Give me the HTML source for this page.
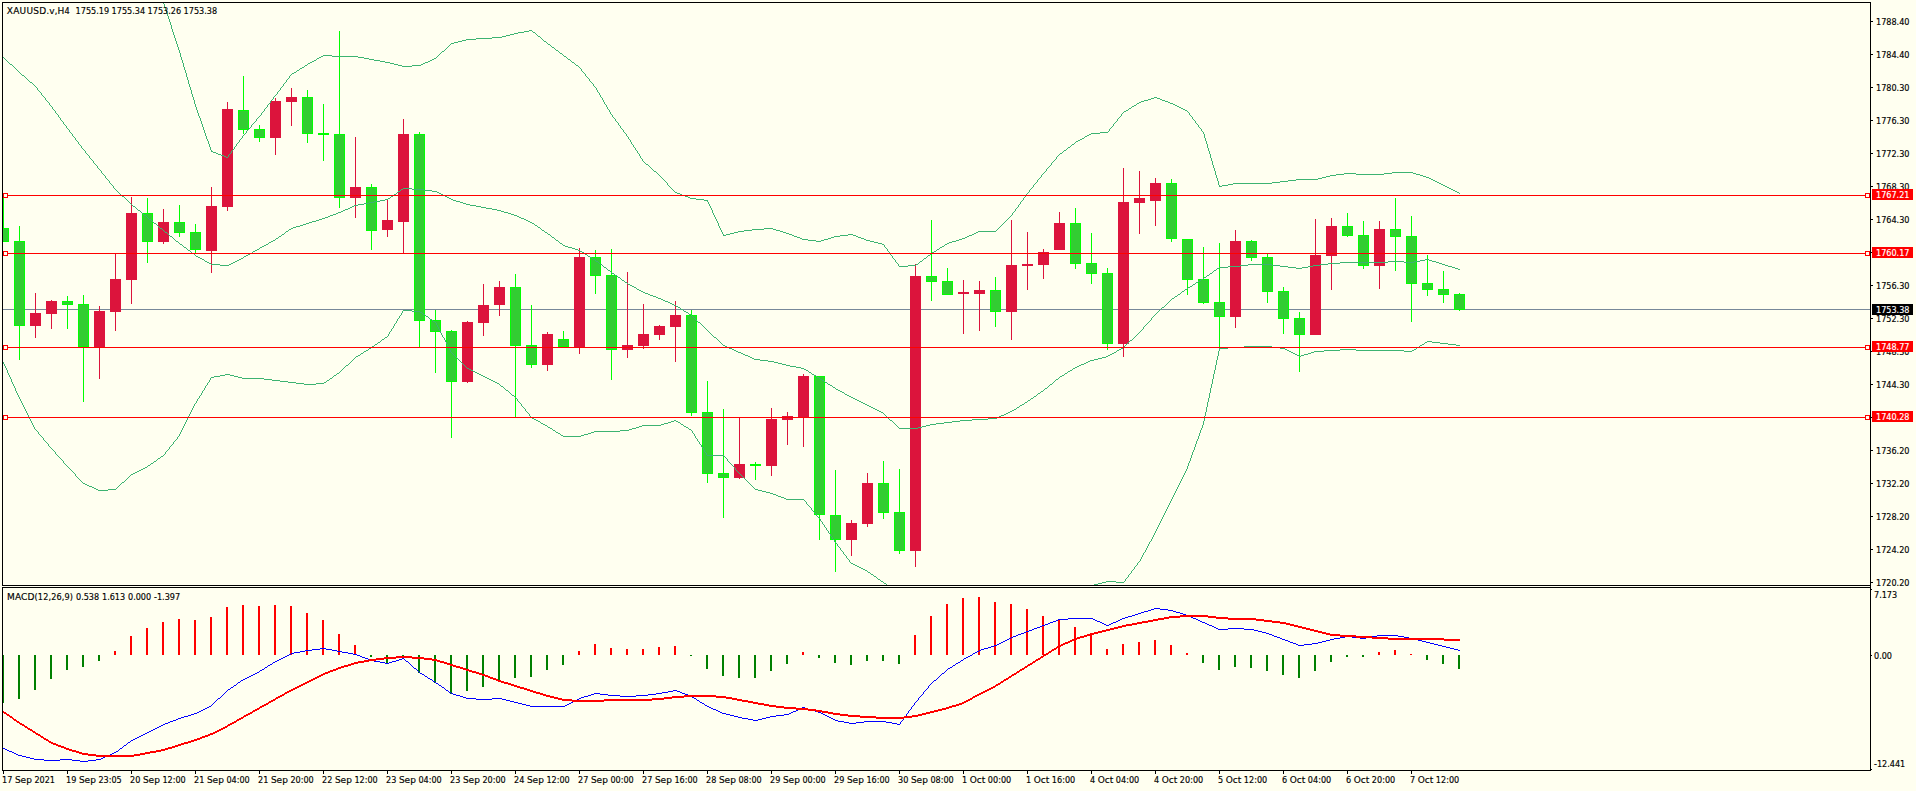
<!DOCTYPE html>
<html lang="en"><head><meta charset="utf-8"><title>XAUUSD.v,H4</title>
<style>
html,body{margin:0;padding:0;background:#FFFFF0;overflow:hidden}
svg{display:block}
text{font-family:"DejaVu Sans Condensed","DejaVu Sans","Liberation Sans",sans-serif;font-size:9px;fill:#000;stroke:#000;stroke-width:0.15px}
.l{font-family:"DejaVu Sans","Liberation Sans",sans-serif}
.w{fill:#fff;stroke:#fff}
</style></head>
<body>
<svg width="1916" height="791" viewBox="0 0 1916 791">
<defs><clipPath id="cm"><rect x="3" y="3" width="1867" height="582"/></clipPath><clipPath id="ci"><rect x="3" y="588" width="1867" height="182"/></clipPath></defs>
<rect x="0" y="0" width="1916" height="791" fill="#FFFFF0"/>
<g clip-path="url(#cm)" shape-rendering="crispEdges">
<rect x="3" y="309" width="1867" height="1" fill="#778899"/>
<rect x="3" y="196" width="1" height="46" fill="#00FF00"/><rect x="-2" y="228" width="11" height="14" fill="#00FF00"/><rect x="-1" y="229" width="9" height="12" fill="#32CD32"/>
<rect x="19" y="226" width="1" height="134" fill="#00FF00"/><rect x="14" y="241" width="11" height="85" fill="#00FF00"/><rect x="15" y="242" width="9" height="83" fill="#32CD32"/>
<rect x="35" y="293" width="1" height="45" fill="#DC143C"/><rect x="30" y="313" width="11" height="13" fill="#DC143C"/>
<rect x="51" y="300" width="1" height="29" fill="#DC143C"/><rect x="46" y="301" width="11" height="13" fill="#DC143C"/>
<rect x="67" y="296" width="1" height="33" fill="#00FF00"/><rect x="62" y="301" width="11" height="4" fill="#00FF00"/><rect x="63" y="302" width="9" height="2" fill="#32CD32"/>
<rect x="83" y="295" width="1" height="107" fill="#00FF00"/><rect x="78" y="304" width="11" height="43" fill="#00FF00"/><rect x="79" y="305" width="9" height="41" fill="#32CD32"/>
<rect x="99" y="306" width="1" height="73" fill="#DC143C"/><rect x="94" y="311" width="11" height="36" fill="#DC143C"/>
<rect x="115" y="254" width="1" height="77" fill="#DC143C"/><rect x="110" y="279" width="11" height="33" fill="#DC143C"/>
<rect x="131" y="197" width="1" height="107" fill="#DC143C"/><rect x="126" y="213" width="11" height="67" fill="#DC143C"/>
<rect x="147" y="198" width="1" height="65" fill="#00FF00"/><rect x="142" y="213" width="11" height="29" fill="#00FF00"/><rect x="143" y="214" width="9" height="27" fill="#32CD32"/>
<rect x="163" y="209" width="1" height="35" fill="#DC143C"/><rect x="158" y="222" width="11" height="20" fill="#DC143C"/>
<rect x="179" y="205" width="1" height="32" fill="#00FF00"/><rect x="174" y="222" width="11" height="11" fill="#00FF00"/><rect x="175" y="223" width="9" height="9" fill="#32CD32"/>
<rect x="195" y="224" width="1" height="29" fill="#00FF00"/><rect x="190" y="232" width="11" height="18" fill="#00FF00"/><rect x="191" y="233" width="9" height="16" fill="#32CD32"/>
<rect x="211" y="187" width="1" height="86" fill="#DC143C"/><rect x="206" y="206" width="11" height="45" fill="#DC143C"/>
<rect x="227" y="102" width="1" height="109" fill="#DC143C"/><rect x="222" y="109" width="11" height="98" fill="#DC143C"/>
<rect x="243" y="76" width="1" height="58" fill="#00FF00"/><rect x="238" y="110" width="11" height="20" fill="#00FF00"/><rect x="239" y="111" width="9" height="18" fill="#32CD32"/>
<rect x="259" y="125" width="1" height="17" fill="#00FF00"/><rect x="254" y="129" width="11" height="9" fill="#00FF00"/><rect x="255" y="130" width="9" height="7" fill="#32CD32"/>
<rect x="275" y="98" width="1" height="57" fill="#DC143C"/><rect x="270" y="101" width="11" height="37" fill="#DC143C"/>
<rect x="291" y="88" width="1" height="38" fill="#DC143C"/><rect x="286" y="97" width="11" height="5" fill="#DC143C"/>
<rect x="307" y="90" width="1" height="53" fill="#00FF00"/><rect x="302" y="97" width="11" height="37" fill="#00FF00"/><rect x="303" y="98" width="9" height="35" fill="#32CD32"/>
<rect x="323" y="104" width="1" height="57" fill="#00FF00"/><rect x="318" y="133" width="11" height="2" fill="#00FF00"/>
<rect x="339" y="31" width="1" height="177" fill="#00FF00"/><rect x="334" y="134" width="11" height="64" fill="#00FF00"/><rect x="335" y="135" width="9" height="62" fill="#32CD32"/>
<rect x="355" y="137" width="1" height="81" fill="#DC143C"/><rect x="350" y="187" width="11" height="11" fill="#DC143C"/>
<rect x="371" y="184" width="1" height="66" fill="#00FF00"/><rect x="366" y="187" width="11" height="44" fill="#00FF00"/><rect x="367" y="188" width="9" height="42" fill="#32CD32"/>
<rect x="387" y="199" width="1" height="38" fill="#DC143C"/><rect x="382" y="220" width="11" height="10" fill="#DC143C"/>
<rect x="403" y="119" width="1" height="134" fill="#DC143C"/><rect x="398" y="134" width="11" height="88" fill="#DC143C"/>
<rect x="419" y="132" width="1" height="215" fill="#00FF00"/><rect x="414" y="134" width="11" height="187" fill="#00FF00"/><rect x="415" y="135" width="9" height="185" fill="#32CD32"/>
<rect x="435" y="310" width="1" height="63" fill="#00FF00"/><rect x="430" y="320" width="11" height="12" fill="#00FF00"/><rect x="431" y="321" width="9" height="10" fill="#32CD32"/>
<rect x="451" y="330" width="1" height="108" fill="#00FF00"/><rect x="446" y="331" width="11" height="51" fill="#00FF00"/><rect x="447" y="332" width="9" height="49" fill="#32CD32"/>
<rect x="467" y="321" width="1" height="62" fill="#DC143C"/><rect x="462" y="322" width="11" height="60" fill="#DC143C"/>
<rect x="483" y="284" width="1" height="52" fill="#DC143C"/><rect x="478" y="305" width="11" height="18" fill="#DC143C"/>
<rect x="499" y="281" width="1" height="35" fill="#DC143C"/><rect x="494" y="287" width="11" height="18" fill="#DC143C"/>
<rect x="515" y="274" width="1" height="144" fill="#00FF00"/><rect x="510" y="287" width="11" height="59" fill="#00FF00"/><rect x="511" y="288" width="9" height="57" fill="#32CD32"/>
<rect x="531" y="305" width="1" height="63" fill="#00FF00"/><rect x="526" y="345" width="11" height="20" fill="#00FF00"/><rect x="527" y="346" width="9" height="18" fill="#32CD32"/>
<rect x="547" y="332" width="1" height="39" fill="#DC143C"/><rect x="542" y="334" width="11" height="31" fill="#DC143C"/>
<rect x="563" y="331" width="1" height="16" fill="#00FF00"/><rect x="558" y="339" width="11" height="8" fill="#00FF00"/><rect x="559" y="340" width="9" height="6" fill="#32CD32"/>
<rect x="579" y="248" width="1" height="106" fill="#DC143C"/><rect x="574" y="257" width="11" height="90" fill="#DC143C"/>
<rect x="595" y="250" width="1" height="44" fill="#00FF00"/><rect x="590" y="257" width="11" height="19" fill="#00FF00"/><rect x="591" y="258" width="9" height="17" fill="#32CD32"/>
<rect x="611" y="249" width="1" height="131" fill="#00FF00"/><rect x="606" y="275" width="11" height="75" fill="#00FF00"/><rect x="607" y="276" width="9" height="73" fill="#32CD32"/>
<rect x="627" y="272" width="1" height="86" fill="#DC143C"/><rect x="622" y="345" width="11" height="5" fill="#DC143C"/>
<rect x="643" y="304" width="1" height="45" fill="#DC143C"/><rect x="638" y="334" width="11" height="12" fill="#DC143C"/>
<rect x="659" y="325" width="1" height="15" fill="#DC143C"/><rect x="654" y="326" width="11" height="9" fill="#DC143C"/>
<rect x="675" y="301" width="1" height="61" fill="#DC143C"/><rect x="670" y="315" width="11" height="12" fill="#DC143C"/>
<rect x="691" y="310" width="1" height="106" fill="#00FF00"/><rect x="686" y="315" width="11" height="98" fill="#00FF00"/><rect x="687" y="316" width="9" height="96" fill="#32CD32"/>
<rect x="707" y="381" width="1" height="102" fill="#00FF00"/><rect x="702" y="412" width="11" height="62" fill="#00FF00"/><rect x="703" y="413" width="9" height="60" fill="#32CD32"/>
<rect x="723" y="409" width="1" height="109" fill="#00FF00"/><rect x="718" y="473" width="11" height="5" fill="#00FF00"/><rect x="719" y="474" width="9" height="3" fill="#32CD32"/>
<rect x="739" y="418" width="1" height="61" fill="#DC143C"/><rect x="734" y="464" width="11" height="14" fill="#DC143C"/>
<rect x="755" y="462" width="1" height="18" fill="#00FF00"/><rect x="750" y="464" width="11" height="2" fill="#00FF00"/>
<rect x="771" y="408" width="1" height="68" fill="#DC143C"/><rect x="766" y="419" width="11" height="47" fill="#DC143C"/>
<rect x="787" y="412" width="1" height="33" fill="#DC143C"/><rect x="782" y="416" width="11" height="4" fill="#DC143C"/>
<rect x="803" y="374" width="1" height="73" fill="#DC143C"/><rect x="798" y="376" width="11" height="42" fill="#DC143C"/>
<rect x="819" y="376" width="1" height="164" fill="#00FF00"/><rect x="814" y="376" width="11" height="139" fill="#00FF00"/><rect x="815" y="377" width="9" height="137" fill="#32CD32"/>
<rect x="835" y="470" width="1" height="102" fill="#00FF00"/><rect x="830" y="515" width="11" height="25" fill="#00FF00"/><rect x="831" y="516" width="9" height="23" fill="#32CD32"/>
<rect x="851" y="520" width="1" height="36" fill="#DC143C"/><rect x="846" y="523" width="11" height="17" fill="#DC143C"/>
<rect x="867" y="473" width="1" height="54" fill="#DC143C"/><rect x="862" y="483" width="11" height="41" fill="#DC143C"/>
<rect x="883" y="461" width="1" height="58" fill="#00FF00"/><rect x="878" y="483" width="11" height="30" fill="#00FF00"/><rect x="879" y="484" width="9" height="28" fill="#32CD32"/>
<rect x="899" y="469" width="1" height="85" fill="#00FF00"/><rect x="894" y="512" width="11" height="39" fill="#00FF00"/><rect x="895" y="513" width="9" height="37" fill="#32CD32"/>
<rect x="915" y="264" width="1" height="303" fill="#DC143C"/><rect x="910" y="276" width="11" height="275" fill="#DC143C"/>
<rect x="931" y="220" width="1" height="81" fill="#00FF00"/><rect x="926" y="276" width="11" height="6" fill="#00FF00"/><rect x="927" y="277" width="9" height="4" fill="#32CD32"/>
<rect x="947" y="268" width="1" height="27" fill="#00FF00"/><rect x="942" y="281" width="11" height="14" fill="#00FF00"/><rect x="943" y="282" width="9" height="12" fill="#32CD32"/>
<rect x="963" y="280" width="1" height="54" fill="#DC143C"/><rect x="958" y="292" width="11" height="2" fill="#DC143C"/>
<rect x="979" y="281" width="1" height="50" fill="#DC143C"/><rect x="974" y="290" width="11" height="4" fill="#DC143C"/>
<rect x="995" y="277" width="1" height="50" fill="#00FF00"/><rect x="990" y="290" width="11" height="22" fill="#00FF00"/><rect x="991" y="291" width="9" height="20" fill="#32CD32"/>
<rect x="1011" y="220" width="1" height="120" fill="#DC143C"/><rect x="1006" y="265" width="11" height="47" fill="#DC143C"/>
<rect x="1027" y="232" width="1" height="58" fill="#DC143C"/><rect x="1022" y="264" width="11" height="2" fill="#DC143C"/>
<rect x="1043" y="249" width="1" height="30" fill="#DC143C"/><rect x="1038" y="252" width="11" height="13" fill="#DC143C"/>
<rect x="1059" y="212" width="1" height="38" fill="#DC143C"/><rect x="1054" y="223" width="11" height="27" fill="#DC143C"/>
<rect x="1075" y="208" width="1" height="61" fill="#00FF00"/><rect x="1070" y="223" width="11" height="41" fill="#00FF00"/><rect x="1071" y="224" width="9" height="39" fill="#32CD32"/>
<rect x="1091" y="233" width="1" height="51" fill="#00FF00"/><rect x="1086" y="263" width="11" height="11" fill="#00FF00"/><rect x="1087" y="264" width="9" height="9" fill="#32CD32"/>
<rect x="1107" y="268" width="1" height="82" fill="#00FF00"/><rect x="1102" y="273" width="11" height="71" fill="#00FF00"/><rect x="1103" y="274" width="9" height="69" fill="#32CD32"/>
<rect x="1123" y="168" width="1" height="189" fill="#DC143C"/><rect x="1118" y="202" width="11" height="142" fill="#DC143C"/>
<rect x="1139" y="171" width="1" height="63" fill="#DC143C"/><rect x="1134" y="198" width="11" height="5" fill="#DC143C"/>
<rect x="1155" y="178" width="1" height="48" fill="#DC143C"/><rect x="1150" y="183" width="11" height="18" fill="#DC143C"/>
<rect x="1171" y="179" width="1" height="63" fill="#00FF00"/><rect x="1166" y="183" width="11" height="56" fill="#00FF00"/><rect x="1167" y="184" width="9" height="54" fill="#32CD32"/>
<rect x="1187" y="239" width="1" height="56" fill="#00FF00"/><rect x="1182" y="239" width="11" height="41" fill="#00FF00"/><rect x="1183" y="240" width="9" height="39" fill="#32CD32"/>
<rect x="1203" y="247" width="1" height="57" fill="#00FF00"/><rect x="1198" y="279" width="11" height="24" fill="#00FF00"/><rect x="1199" y="280" width="9" height="22" fill="#32CD32"/>
<rect x="1219" y="243" width="1" height="105" fill="#00FF00"/><rect x="1214" y="302" width="11" height="15" fill="#00FF00"/><rect x="1215" y="303" width="9" height="13" fill="#32CD32"/>
<rect x="1235" y="230" width="1" height="98" fill="#DC143C"/><rect x="1230" y="241" width="11" height="76" fill="#DC143C"/>
<rect x="1251" y="240" width="1" height="21" fill="#00FF00"/><rect x="1246" y="241" width="11" height="17" fill="#00FF00"/><rect x="1247" y="242" width="9" height="15" fill="#32CD32"/>
<rect x="1267" y="254" width="1" height="49" fill="#00FF00"/><rect x="1262" y="257" width="11" height="35" fill="#00FF00"/><rect x="1263" y="258" width="9" height="33" fill="#32CD32"/>
<rect x="1283" y="287" width="1" height="47" fill="#00FF00"/><rect x="1278" y="291" width="11" height="28" fill="#00FF00"/><rect x="1279" y="292" width="9" height="26" fill="#32CD32"/>
<rect x="1299" y="312" width="1" height="60" fill="#00FF00"/><rect x="1294" y="318" width="11" height="17" fill="#00FF00"/><rect x="1295" y="319" width="9" height="15" fill="#32CD32"/>
<rect x="1315" y="219" width="1" height="116" fill="#DC143C"/><rect x="1310" y="255" width="11" height="80" fill="#DC143C"/>
<rect x="1331" y="218" width="1" height="72" fill="#DC143C"/><rect x="1326" y="226" width="11" height="30" fill="#DC143C"/>
<rect x="1347" y="213" width="1" height="24" fill="#00FF00"/><rect x="1342" y="226" width="11" height="10" fill="#00FF00"/><rect x="1343" y="227" width="9" height="8" fill="#32CD32"/>
<rect x="1363" y="221" width="1" height="48" fill="#00FF00"/><rect x="1358" y="235" width="11" height="31" fill="#00FF00"/><rect x="1359" y="236" width="9" height="29" fill="#32CD32"/>
<rect x="1379" y="221" width="1" height="68" fill="#DC143C"/><rect x="1374" y="229" width="11" height="37" fill="#DC143C"/>
<rect x="1395" y="198" width="1" height="73" fill="#00FF00"/><rect x="1390" y="229" width="11" height="8" fill="#00FF00"/><rect x="1391" y="230" width="9" height="6" fill="#32CD32"/>
<rect x="1411" y="216" width="1" height="106" fill="#00FF00"/><rect x="1406" y="236" width="11" height="48" fill="#00FF00"/><rect x="1407" y="237" width="9" height="46" fill="#32CD32"/>
<rect x="1427" y="255" width="1" height="41" fill="#00FF00"/><rect x="1422" y="283" width="11" height="7" fill="#00FF00"/><rect x="1423" y="284" width="9" height="5" fill="#32CD32"/>
<rect x="1443" y="271" width="1" height="32" fill="#00FF00"/><rect x="1438" y="289" width="11" height="6" fill="#00FF00"/><rect x="1439" y="290" width="9" height="4" fill="#32CD32"/>
<rect x="1459" y="293" width="1" height="18" fill="#00FF00"/><rect x="1454" y="294" width="11" height="16" fill="#00FF00"/><rect x="1455" y="295" width="9" height="14" fill="#32CD32"/>
<path d="M163 3h1v1h-1zM164 4h1v3h-1zM165 7h1v3h-1zM166 10h1v3h-1zM167 13h1v3h-1zM168 16h1v3h-1zM169 19h1v3h-1zM170 22h1v3h-1zM171 25h1v4h-1zM172 29h1v3h-1zM173 32h1v3h-1zM174 35h1v3h-1zM175 38h1v3h-1zM176 41h1v3h-1zM177 44h1v3h-1zM178 47h1v3h-1zM179 50h1v3h-1zM180 53h1v4h-1zM181 57h1v3h-1zM182 60h1v3h-1zM183 63h1v4h-1zM184 67h1v3h-1zM185 70h1v3h-1zM186 73h1v4h-1zM187 77h1v3h-1zM188 80h1v4h-1zM189 84h1v3h-1zM190 87h1v3h-1zM191 90h1v4h-1zM192 94h1v3h-1zM193 97h1v3h-1zM194 100h1v4h-1zM195 104h1v3h-1zM196 107h1v3h-1zM197 110h1v3h-1zM198 113h1v3h-1zM199 116h1v2h-1zM200 118h1v3h-1zM201 121h1v3h-1zM202 124h1v3h-1zM203 127h1v3h-1zM204 130h1v3h-1zM205 133h1v3h-1zM206 136h1v3h-1zM207 139h1v2h-1zM208 141h1v3h-1zM209 144h1v3h-1zM210 147h1v3h-1zM211 150h1v2h-1zM212 151h1v1h-1zM213 152h3v1h-3zM216 153h2v1h-2zM218 154h3v1h-3zM221 155h3v1h-3zM224 156h2v1h-2zM226 157h2v1h-2zM228 155h1v2h-1zM229 154h1v1h-1zM230 153h1v1h-1zM231 151h1v2h-1zM232 150h1v1h-1zM233 149h1v1h-1zM234 147h1v2h-1zM235 146h1v1h-1zM236 144h1v2h-1zM237 143h1v1h-1zM238 142h1v1h-1zM239 140h1v2h-1zM240 139h1v1h-1zM241 138h1v1h-1zM242 136h1v2h-1zM243 135h1v1h-1zM244 134h1v1h-1zM245 133h1v1h-1zM246 131h1v2h-1zM247 130h1v1h-1zM248 129h1v1h-1zM249 128h1v1h-1zM250 127h1v1h-1zM251 125h1v2h-1zM252 124h1v1h-1zM253 123h1v1h-1zM254 122h1v1h-1zM255 121h1v1h-1zM256 119h1v2h-1zM257 118h1v1h-1zM258 117h1v1h-1zM259 116h1v1h-1zM260 115h1v1h-1zM261 113h1v2h-1zM262 112h1v1h-1zM263 111h1v1h-1zM264 109h1v2h-1zM265 108h1v1h-1zM266 107h1v1h-1zM267 105h1v2h-1zM268 104h1v1h-1zM269 103h1v1h-1zM270 101h1v2h-1zM271 100h1v1h-1zM272 99h1v1h-1zM273 97h1v2h-1zM274 96h1v1h-1zM275 95h1v1h-1zM276 94h1v1h-1zM277 92h1v2h-1zM278 91h1v1h-1zM279 90h1v1h-1zM280 88h1v2h-1zM281 87h1v1h-1zM282 86h1v1h-1zM283 84h1v2h-1zM284 83h1v1h-1zM285 82h1v1h-1zM286 80h1v2h-1zM287 79h1v1h-1zM288 78h1v1h-1zM289 76h1v2h-1zM290 75h1v1h-1zM291 74h1v1h-1zM292 73h2v1h-2zM294 72h2v1h-2zM296 71h1v1h-1zM297 70h2v1h-2zM299 69h1v1h-1zM300 68h2v1h-2zM302 67h2v1h-2zM304 66h1v1h-1zM305 65h2v1h-2zM307 64h1v1h-1zM308 63h2v1h-2zM310 62h2v1h-2zM312 61h2v1h-2zM314 60h2v1h-2zM316 59h1v1h-1zM317 58h2v1h-2zM319 57h2v1h-2zM321 56h2v1h-2zM323 55h9v1h-9zM332 56h26v1h-26zM358 57h6v1h-6zM364 58h5v1h-5zM369 59h5v1h-5zM374 60h6v1h-6zM380 61h5v1h-5zM385 62h5v1h-5zM390 63h4v1h-4zM394 64h4v1h-4zM398 65h4v1h-4zM402 66h10v1h-10zM412 65h9v1h-9zM421 64h2v1h-2zM423 63h2v1h-2zM425 62h3v1h-3zM428 61h2v1h-2zM430 60h2v1h-2zM432 59h2v1h-2zM434 58h2v1h-2zM436 57h1v1h-1zM437 56h1v1h-1zM438 55h1v1h-1zM439 54h1v1h-1zM440 53h1v1h-1zM441 52h1v1h-1zM442 51h2v1h-2zM444 50h1v1h-1zM445 49h1v1h-1zM446 48h1v1h-1zM447 47h1v1h-1zM448 46h1v1h-1zM449 45h1v1h-1zM450 44h1v1h-1zM451 43h3v1h-3zM454 42h4v1h-4zM458 41h4v1h-4zM462 40h4v1h-4zM466 39h10v1h-10zM476 38h16v1h-16zM492 37h10v1h-10zM502 36h4v1h-4zM506 35h4v1h-4zM510 34h4v1h-4zM514 33h4v1h-4zM518 32h6v1h-6zM524 31h5v1h-5zM529 30h3v1h-3zM532 31h1v1h-1zM533 32h2v1h-2zM535 33h1v1h-1zM536 34h1v1h-1zM537 35h1v1h-1zM538 36h2v1h-2zM540 37h1v1h-1zM541 38h1v1h-1zM542 39h1v1h-1zM543 40h1v1h-1zM544 41h2v1h-2zM546 42h1v1h-1zM547 43h1v1h-1zM548 44h2v1h-2zM550 45h1v1h-1zM551 46h1v1h-1zM552 47h2v1h-2zM554 48h1v1h-1zM555 49h1v1h-1zM556 50h2v1h-2zM558 51h1v1h-1zM559 52h1v1h-1zM560 53h2v1h-2zM562 54h1v1h-1zM563 55h1v1h-1zM564 56h2v1h-2zM566 57h1v1h-1zM567 58h1v1h-1zM568 59h2v1h-2zM570 60h1v1h-1zM571 61h1v1h-1zM572 62h2v1h-2zM574 63h1v1h-1zM575 64h1v1h-1zM576 65h2v1h-2zM578 66h1v1h-1zM579 67h1v1h-1zM580 68h1v1h-1zM581 69h1v2h-1zM582 71h1v1h-1zM583 72h1v1h-1zM584 73h1v1h-1zM585 74h1v2h-1zM586 76h1v1h-1zM587 77h1v1h-1zM588 78h1v1h-1zM589 79h1v2h-1zM590 81h1v1h-1zM591 82h1v1h-1zM592 83h1v1h-1zM593 84h1v2h-1zM594 86h1v1h-1zM595 87h1v1h-1zM596 88h1v2h-1zM597 90h1v2h-1zM598 92h1v1h-1zM599 93h1v2h-1zM600 95h1v2h-1zM601 97h1v1h-1zM602 98h1v2h-1zM603 100h1v2h-1zM604 102h1v2h-1zM605 104h1v1h-1zM606 105h1v2h-1zM607 107h1v2h-1zM608 109h1v1h-1zM609 110h1v2h-1zM610 112h1v2h-1zM611 114h1v1h-1zM612 115h1v2h-1zM613 117h1v1h-1zM614 118h1v1h-1zM615 119h1v2h-1zM616 121h1v1h-1zM617 122h1v1h-1zM618 123h1v2h-1zM619 125h1v1h-1zM620 126h1v2h-1zM621 128h1v1h-1zM622 129h1v1h-1zM623 130h1v2h-1zM624 132h1v1h-1zM625 133h1v1h-1zM626 134h1v2h-1zM627 136h1v1h-1zM628 137h1v2h-1zM629 139h1v1h-1zM630 140h1v2h-1zM631 142h1v2h-1zM632 144h1v1h-1zM633 145h1v2h-1zM634 147h1v1h-1zM635 148h1v2h-1zM636 150h1v1h-1zM637 151h1v2h-1zM638 153h1v1h-1zM639 154h1v2h-1zM640 156h1v2h-1zM641 158h1v1h-1zM642 159h1v2h-1zM643 161h1v1h-1zM644 162h1v1h-1zM645 163h1v1h-1zM646 164h2v1h-2zM648 165h1v1h-1zM649 166h1v1h-1zM650 167h1v1h-1zM651 168h1v1h-1zM652 169h1v1h-1zM653 170h1v1h-1zM654 171h2v1h-2zM656 172h1v1h-1zM657 173h1v1h-1zM658 174h1v1h-1zM659 175h1v1h-1zM660 176h1v1h-1zM661 177h1v1h-1zM662 178h1v1h-1zM663 179h1v1h-1zM664 180h1v1h-1zM665 181h1v1h-1zM666 182h1v1h-1zM667 183h1v2h-1zM668 185h1v1h-1zM669 186h1v1h-1zM670 187h1v1h-1zM671 188h1v1h-1zM672 189h1v1h-1zM673 190h1v1h-1zM674 191h1v1h-1zM675 192h2v1h-2zM677 193h3v1h-3zM680 194h2v1h-2zM682 195h3v1h-3zM685 196h3v1h-3zM688 197h2v1h-2zM690 198h6v1h-6zM696 199h8v1h-8zM704 200h3v1h-3zM707 200h1v2h-1zM708 202h1v2h-1zM709 204h1v2h-1zM710 206h1v2h-1zM711 208h1v2h-1zM712 210h1v3h-1zM713 213h1v2h-1zM714 215h1v2h-1zM715 217h1v2h-1zM716 219h1v2h-1zM717 221h1v2h-1zM718 223h1v3h-1zM719 226h1v2h-1zM720 228h1v2h-1zM721 230h1v2h-1zM722 232h1v2h-1zM723 234h1v2h-1zM724 235h2v1h-2zM726 234h4v1h-4zM730 233h4v1h-4zM734 232h4v1h-4zM738 231h6v1h-6zM744 230h8v1h-8zM752 229h12v1h-12zM764 228h9v1h-9zM773 229h3v1h-3zM776 230h4v1h-4zM780 231h3v1h-3zM783 232h3v1h-3zM786 233h3v1h-3zM789 234h3v1h-3zM792 235h2v1h-2zM794 236h3v1h-3zM797 237h3v1h-3zM800 238h2v1h-2zM802 239h6v1h-6zM808 240h8v1h-8zM816 241h5v1h-5zM821 240h3v1h-3zM824 239h4v1h-4zM828 238h3v1h-3zM831 237h3v1h-3zM834 236h6v1h-6zM840 235h8v1h-8zM848 234h5v1h-5zM853 235h3v1h-3zM856 236h2v1h-2zM858 237h3v1h-3zM861 238h3v1h-3zM864 239h2v1h-2zM866 240h4v1h-4zM870 241h4v1h-4zM874 242h4v1h-4zM878 243h4v1h-4zM882 244h2v1h-2zM884 245h1v2h-1zM885 247h1v1h-1zM886 248h1v1h-1zM887 249h1v2h-1zM888 251h1v1h-1zM889 252h1v1h-1zM890 253h1v2h-1zM891 255h1v1h-1zM892 256h1v2h-1zM893 258h1v1h-1zM894 259h1v1h-1zM895 260h1v2h-1zM896 262h1v1h-1zM897 263h1v1h-1zM898 264h1v2h-1zM899 266h9v1h-9zM908 265h8v1h-8zM916 264h2v1h-2zM918 263h1v1h-1zM919 262h1v1h-1zM920 261h2v1h-2zM922 260h1v1h-1zM923 259h1v1h-1zM924 258h2v1h-2zM926 257h1v1h-1zM927 256h1v1h-1zM928 255h2v1h-2zM930 254h1v1h-1zM931 253h1v1h-1zM932 252h2v1h-2zM934 251h2v1h-2zM936 250h1v1h-1zM937 249h2v1h-2zM939 248h1v1h-1zM940 247h2v1h-2zM942 246h2v1h-2zM944 245h1v1h-1zM945 244h2v1h-2zM947 243h2v1h-2zM949 242h3v1h-3zM952 241h4v1h-4zM956 240h3v1h-3zM959 239h3v1h-3zM962 238h3v1h-3zM965 237h2v1h-2zM967 236h2v1h-2zM969 235h3v1h-3zM972 234h2v1h-2zM974 233h2v1h-2zM976 232h2v1h-2zM978 231h18v1h-18zM996 230h1v1h-1zM997 229h1v1h-1zM998 228h1v1h-1zM999 227h1v1h-1zM1000 226h1v1h-1zM1001 225h1v1h-1zM1002 224h1v1h-1zM1003 223h1v1h-1zM1004 222h1v1h-1zM1005 221h1v1h-1zM1006 220h1v1h-1zM1007 219h1v1h-1zM1008 218h1v1h-1zM1009 217h1v1h-1zM1010 216h1v1h-1zM1011 215h1v1h-1zM1012 213h1v2h-1zM1013 212h1v1h-1zM1014 211h1v1h-1zM1015 209h1v2h-1zM1016 208h1v1h-1zM1017 207h1v1h-1zM1018 205h1v2h-1zM1019 204h1v1h-1zM1020 202h1v2h-1zM1021 201h1v1h-1zM1022 200h1v1h-1zM1023 198h1v2h-1zM1024 197h1v1h-1zM1025 196h1v1h-1zM1026 194h1v2h-1zM1027 193h1v1h-1zM1028 192h1v1h-1zM1029 190h1v2h-1zM1030 189h1v1h-1zM1031 188h1v1h-1zM1032 187h1v1h-1zM1033 185h1v2h-1zM1034 184h1v1h-1zM1035 183h1v1h-1zM1036 182h1v1h-1zM1037 180h1v2h-1zM1038 179h1v1h-1zM1039 178h1v1h-1zM1040 177h1v1h-1zM1041 175h1v2h-1zM1042 174h1v1h-1zM1043 173h1v1h-1zM1044 172h1v1h-1zM1045 171h1v1h-1zM1046 169h1v2h-1zM1047 168h1v1h-1zM1048 167h1v1h-1zM1049 166h1v1h-1zM1050 165h1v1h-1zM1051 163h1v2h-1zM1052 162h1v1h-1zM1053 161h1v1h-1zM1054 160h1v1h-1zM1055 159h1v1h-1zM1056 157h1v2h-1zM1057 156h1v1h-1zM1058 155h1v1h-1zM1059 154h1v1h-1zM1060 153h2v1h-2zM1062 152h1v1h-1zM1063 151h1v1h-1zM1064 150h2v1h-2zM1066 149h1v1h-1zM1067 148h1v1h-1zM1068 147h2v1h-2zM1070 146h1v1h-1zM1071 145h1v1h-1zM1072 144h2v1h-2zM1074 143h1v1h-1zM1075 142h1v1h-1zM1076 141h2v1h-2zM1078 140h2v1h-2zM1080 139h2v1h-2zM1082 138h2v1h-2zM1084 137h1v1h-1zM1085 136h2v1h-2zM1087 135h2v1h-2zM1089 134h2v1h-2zM1091 133h9v1h-9zM1100 132h8v1h-8zM1108 131h1v1h-1zM1109 129h1v2h-1zM1110 128h1v1h-1zM1111 127h1v1h-1zM1112 126h1v1h-1zM1113 124h1v2h-1zM1114 123h1v1h-1zM1115 122h1v1h-1zM1116 121h1v1h-1zM1117 119h1v2h-1zM1118 118h1v1h-1zM1119 117h1v1h-1zM1120 116h1v1h-1zM1121 114h1v2h-1zM1122 113h1v1h-1zM1123 112h1v1h-1zM1124 111h2v1h-2zM1126 110h2v1h-2zM1128 109h1v1h-1zM1129 108h2v1h-2zM1131 107h1v1h-1zM1132 106h2v1h-2zM1134 105h2v1h-2zM1136 104h1v1h-1zM1137 103h2v1h-2zM1139 102h2v1h-2zM1141 101h3v1h-3zM1144 100h4v1h-4zM1148 99h3v1h-3zM1151 98h3v1h-3zM1154 97h3v1h-3zM1157 98h3v1h-3zM1160 99h2v1h-2zM1162 100h3v1h-3zM1165 101h3v1h-3zM1168 102h2v1h-2zM1170 103h3v1h-3zM1173 104h2v1h-2zM1175 105h2v1h-2zM1177 106h2v1h-2zM1179 107h2v1h-2zM1181 108h2v1h-2zM1183 109h2v1h-2zM1185 110h2v1h-2zM1187 111h1v1h-1zM1188 112h1v1h-1zM1189 113h1v2h-1zM1190 115h1v1h-1zM1191 116h1v1h-1zM1192 117h1v2h-1zM1193 119h1v1h-1zM1194 120h1v1h-1zM1195 121h1v2h-1zM1196 123h1v1h-1zM1197 124h1v1h-1zM1198 125h1v2h-1zM1199 127h1v1h-1zM1200 128h1v1h-1zM1201 129h1v2h-1zM1202 131h1v1h-1zM1203 132h1v2h-1zM1204 134h1v4h-1zM1205 138h1v3h-1zM1206 141h1v3h-1zM1207 144h1v4h-1zM1208 148h1v3h-1zM1209 151h1v3h-1zM1210 154h1v4h-1zM1211 158h1v3h-1zM1212 161h1v4h-1zM1213 165h1v3h-1zM1214 168h1v3h-1zM1215 171h1v4h-1zM1216 175h1v3h-1zM1217 178h1v3h-1zM1218 181h1v4h-1zM1219 185h1v2h-1zM1220 186h2v1h-2zM1222 185h6v1h-6zM1228 184h5v1h-5zM1233 183h39v1h-39zM1272 182h8v1h-8zM1280 181h8v1h-8zM1288 180h8v1h-8zM1296 179h22v1h-22zM1318 178h4v1h-4zM1322 177h4v1h-4zM1326 176h4v1h-4zM1330 175h6v1h-6zM1336 174h8v1h-8zM1344 173h12v1h-12zM1356 174h28v1h-28zM1384 173h8v1h-8zM1392 172h21v1h-21zM1413 173h3v1h-3zM1416 174h4v1h-4zM1420 175h3v1h-3zM1423 176h3v1h-3zM1426 177h3v1h-3zM1429 178h2v1h-2zM1431 179h2v1h-2zM1433 180h2v1h-2zM1435 181h2v1h-2zM1437 182h2v1h-2zM1439 183h2v1h-2zM1441 184h2v1h-2zM1443 185h2v1h-2zM1445 186h2v1h-2zM1447 187h2v1h-2zM1449 188h2v1h-2zM1451 189h2v1h-2zM1453 190h2v1h-2zM1455 191h2v1h-2zM1457 192h2v1h-2zM1459 193h1v1h-1z" fill="#3CB371" />
<path d="M3 57h1v1h-1zM4 58h1v1h-1zM5 59h1v1h-1zM6 60h1v1h-1zM7 61h1v1h-1zM8 62h1v1h-1zM9 63h1v1h-1zM10 64h2v1h-2zM12 65h1v1h-1zM13 66h1v1h-1zM14 67h1v1h-1zM15 68h1v1h-1zM16 69h1v1h-1zM17 70h1v1h-1zM18 71h1v1h-1zM19 72h1v1h-1zM20 73h1v1h-1zM21 74h1v1h-1zM22 75h2v1h-2zM24 76h1v1h-1zM25 77h1v1h-1zM26 78h1v1h-1zM27 79h1v1h-1zM28 80h1v1h-1zM29 81h1v1h-1zM30 82h2v1h-2zM32 83h1v1h-1zM33 84h1v1h-1zM34 85h1v1h-1zM35 86h1v1h-1zM36 87h1v1h-1zM37 88h1v2h-1zM38 90h1v1h-1zM39 91h1v1h-1zM40 92h1v1h-1zM41 93h1v2h-1zM42 95h1v1h-1zM43 96h1v1h-1zM44 97h1v1h-1zM45 98h1v2h-1zM46 100h1v1h-1zM47 101h1v1h-1zM48 102h1v1h-1zM49 103h1v2h-1zM50 105h1v1h-1zM51 106h1v1h-1zM52 107h1v2h-1zM53 109h1v1h-1zM54 110h1v1h-1zM55 111h1v2h-1zM56 113h1v1h-1zM57 114h1v1h-1zM58 115h1v2h-1zM59 117h1v1h-1zM60 118h1v2h-1zM61 120h1v1h-1zM62 121h1v1h-1zM63 122h1v2h-1zM64 124h1v1h-1zM65 125h1v1h-1zM66 126h1v2h-1zM67 128h1v1h-1zM68 129h1v1h-1zM69 130h1v2h-1zM70 132h1v1h-1zM71 133h1v1h-1zM72 134h1v2h-1zM73 136h1v1h-1zM74 137h1v1h-1zM75 138h1v2h-1zM76 140h1v1h-1zM77 141h1v1h-1zM78 142h1v2h-1zM79 144h1v1h-1zM80 145h1v1h-1zM81 146h1v2h-1zM82 148h1v1h-1zM83 149h1v1h-1zM84 150h1v1h-1zM85 151h1v2h-1zM86 153h1v1h-1zM87 154h1v1h-1zM88 155h1v1h-1zM89 156h1v2h-1zM90 158h1v1h-1zM91 159h1v1h-1zM92 160h1v1h-1zM93 161h1v2h-1zM94 163h1v1h-1zM95 164h1v1h-1zM96 165h1v1h-1zM97 166h1v2h-1zM98 168h1v1h-1zM99 169h1v1h-1zM100 170h1v1h-1zM101 171h1v2h-1zM102 173h1v1h-1zM103 174h1v1h-1zM104 175h1v1h-1zM105 176h1v2h-1zM106 178h1v1h-1zM107 179h1v1h-1zM108 180h1v1h-1zM109 181h1v2h-1zM110 183h1v1h-1zM111 184h1v1h-1zM112 185h1v1h-1zM113 186h1v2h-1zM114 188h1v1h-1zM115 189h1v1h-1zM116 190h1v1h-1zM117 191h1v1h-1zM118 192h1v1h-1zM119 193h1v1h-1zM120 194h1v1h-1zM121 195h1v1h-1zM122 196h2v1h-2zM124 197h1v1h-1zM125 198h1v1h-1zM126 199h1v1h-1zM127 200h1v1h-1zM128 201h1v1h-1zM129 202h1v1h-1zM130 203h1v1h-1zM131 204h1v1h-1zM132 205h1v1h-1zM133 206h2v1h-2zM135 207h1v1h-1zM136 208h1v1h-1zM137 209h1v1h-1zM138 210h2v1h-2zM140 211h1v1h-1zM141 212h1v1h-1zM142 213h1v1h-1zM143 214h1v1h-1zM144 215h2v1h-2zM146 216h1v1h-1zM147 217h1v1h-1zM148 218h1v1h-1zM149 219h2v1h-2zM151 220h1v1h-1zM152 221h1v1h-1zM153 222h1v1h-1zM154 223h2v1h-2zM156 224h1v1h-1zM157 225h1v1h-1zM158 226h1v1h-1zM159 227h1v1h-1zM160 228h2v1h-2zM162 229h1v1h-1zM163 230h1v1h-1zM164 231h1v1h-1zM165 232h2v1h-2zM167 233h1v1h-1zM168 234h1v1h-1zM169 235h1v1h-1zM170 236h2v1h-2zM172 237h1v1h-1zM173 238h1v1h-1zM174 239h1v1h-1zM175 240h1v1h-1zM176 241h2v1h-2zM178 242h1v1h-1zM179 243h1v1h-1zM180 244h2v1h-2zM182 245h1v1h-1zM183 246h1v1h-1zM184 247h2v1h-2zM186 248h1v1h-1zM187 249h1v1h-1zM188 250h2v1h-2zM190 251h1v1h-1zM191 252h1v1h-1zM192 253h2v1h-2zM194 254h1v1h-1zM195 255h1v1h-1zM196 256h2v1h-2zM198 257h2v1h-2zM200 258h2v1h-2zM202 259h2v1h-2zM204 260h1v1h-1zM205 261h2v1h-2zM207 262h2v1h-2zM209 263h2v1h-2zM211 264h9v1h-9zM220 265h9v1h-9zM229 264h2v1h-2zM231 263h2v1h-2zM233 262h2v1h-2zM235 261h2v1h-2zM237 260h2v1h-2zM239 259h2v1h-2zM241 258h2v1h-2zM243 257h1v1h-1zM244 256h2v1h-2zM246 255h2v1h-2zM248 254h2v1h-2zM250 253h2v1h-2zM252 252h1v1h-1zM253 251h2v1h-2zM255 250h2v1h-2zM257 249h2v1h-2zM259 248h1v1h-1zM260 247h2v1h-2zM262 246h2v1h-2zM264 245h2v1h-2zM266 244h2v1h-2zM268 243h1v1h-1zM269 242h2v1h-2zM271 241h2v1h-2zM273 240h2v1h-2zM275 239h1v1h-1zM276 238h2v1h-2zM278 237h1v1h-1zM279 236h2v1h-2zM281 235h1v1h-1zM282 234h2v1h-2zM284 233h1v1h-1zM285 232h1v1h-1zM286 231h2v1h-2zM288 230h1v1h-1zM289 229h2v1h-2zM291 228h2v1h-2zM293 227h3v1h-3zM296 226h4v1h-4zM300 225h3v1h-3zM303 224h3v1h-3zM306 223h3v1h-3zM309 222h3v1h-3zM312 221h4v1h-4zM316 220h3v1h-3zM319 219h3v1h-3zM322 218h3v1h-3zM325 217h3v1h-3zM328 216h2v1h-2zM330 215h3v1h-3zM333 214h3v1h-3zM336 213h2v1h-2zM338 212h3v1h-3zM341 211h2v1h-2zM343 210h2v1h-2zM345 209h3v1h-3zM348 208h2v1h-2zM350 207h2v1h-2zM352 206h2v1h-2zM354 205h4v1h-4zM358 204h6v1h-6zM364 203h5v1h-5zM369 202h5v1h-5zM374 201h6v1h-6zM380 200h5v1h-5zM385 199h3v1h-3zM388 198h2v1h-2zM390 197h1v1h-1zM391 196h2v1h-2zM393 195h1v1h-1zM394 194h2v1h-2zM396 193h1v1h-1zM397 192h1v1h-1zM398 191h2v1h-2zM400 190h1v1h-1zM401 189h2v1h-2zM403 188h9v1h-9zM412 189h12v1h-12zM424 190h8v1h-8zM432 191h5v1h-5zM437 192h2v1h-2zM439 193h2v1h-2zM441 194h2v1h-2zM443 195h2v1h-2zM445 196h2v1h-2zM447 197h2v1h-2zM449 198h2v1h-2zM451 199h2v1h-2zM453 200h3v1h-3zM456 201h4v1h-4zM460 202h3v1h-3zM463 203h3v1h-3zM466 204h4v1h-4zM470 205h6v1h-6zM476 206h5v1h-5zM481 207h5v1h-5zM486 208h6v1h-6zM492 209h5v1h-5zM497 210h4v1h-4zM501 211h3v1h-3zM504 212h4v1h-4zM508 213h3v1h-3zM511 214h3v1h-3zM514 215h3v1h-3zM517 216h2v1h-2zM519 217h2v1h-2zM521 218h3v1h-3zM524 219h2v1h-2zM526 220h2v1h-2zM528 221h2v1h-2zM530 222h2v1h-2zM532 223h2v1h-2zM534 224h1v1h-1zM535 225h2v1h-2zM537 226h1v1h-1zM538 227h2v1h-2zM540 228h1v1h-1zM541 229h1v1h-1zM542 230h2v1h-2zM544 231h1v1h-1zM545 232h2v1h-2zM547 233h1v1h-1zM548 234h2v1h-2zM550 235h1v1h-1zM551 236h1v1h-1zM552 237h2v1h-2zM554 238h1v1h-1zM555 239h1v1h-1zM556 240h2v1h-2zM558 241h1v1h-1zM559 242h1v1h-1zM560 243h2v1h-2zM562 244h1v1h-1zM563 245h2v1h-2zM565 246h3v1h-3zM568 247h4v1h-4zM572 248h3v1h-3zM575 249h3v1h-3zM578 250h2v1h-2zM580 251h2v1h-2zM582 252h2v1h-2zM584 253h1v1h-1zM585 254h2v1h-2zM587 255h1v1h-1zM588 256h2v1h-2zM590 257h2v1h-2zM592 258h1v1h-1zM593 259h2v1h-2zM595 260h1v1h-1zM596 261h2v1h-2zM598 262h1v1h-1zM599 263h1v1h-1zM600 264h2v1h-2zM602 265h1v1h-1zM603 266h1v1h-1zM604 267h2v1h-2zM606 268h1v1h-1zM607 269h1v1h-1zM608 270h2v1h-2zM610 271h1v1h-1zM611 272h1v1h-1zM612 273h2v1h-2zM614 274h1v1h-1zM615 275h2v1h-2zM617 276h1v1h-1zM618 277h2v1h-2zM620 278h1v1h-1zM621 279h1v1h-1zM622 280h2v1h-2zM624 281h1v1h-1zM625 282h2v1h-2zM627 283h1v1h-1zM628 284h2v1h-2zM630 285h2v1h-2zM632 286h2v1h-2zM634 287h2v1h-2zM636 288h1v1h-1zM637 289h2v1h-2zM639 290h2v1h-2zM641 291h2v1h-2zM643 292h2v1h-2zM645 293h3v1h-3zM648 294h2v1h-2zM650 295h3v1h-3zM653 296h3v1h-3zM656 297h2v1h-2zM658 298h3v1h-3zM661 299h2v1h-2zM663 300h2v1h-2zM665 301h3v1h-3zM668 302h2v1h-2zM670 303h2v1h-2zM672 304h2v1h-2zM674 305h2v1h-2zM676 306h2v1h-2zM678 307h2v1h-2zM680 308h1v1h-1zM681 309h2v1h-2zM683 310h1v1h-1zM684 311h2v1h-2zM686 312h2v1h-2zM688 313h1v1h-1zM689 314h2v1h-2zM691 315h1v1h-1zM692 316h1v1h-1zM693 317h1v1h-1zM694 318h1v1h-1zM695 319h1v1h-1zM696 320h1v1h-1zM697 321h1v1h-1zM698 322h2v1h-2zM700 323h1v1h-1zM701 324h1v1h-1zM702 325h1v1h-1zM703 326h1v1h-1zM704 327h1v1h-1zM705 328h1v1h-1zM706 329h1v1h-1zM707 330h1v1h-1zM708 331h1v1h-1zM709 332h1v1h-1zM710 333h1v1h-1zM711 334h1v1h-1zM712 335h1v1h-1zM713 336h1v1h-1zM714 337h2v1h-2zM716 338h1v1h-1zM717 339h1v1h-1zM718 340h1v1h-1zM719 341h1v1h-1zM720 342h1v1h-1zM721 343h1v1h-1zM722 344h1v1h-1zM723 345h2v1h-2zM725 346h2v1h-2zM727 347h2v1h-2zM729 348h3v1h-3zM732 349h2v1h-2zM734 350h2v1h-2zM736 351h2v1h-2zM738 352h3v1h-3zM741 353h2v1h-2zM743 354h2v1h-2zM745 355h3v1h-3zM748 356h2v1h-2zM750 357h2v1h-2zM752 358h2v1h-2zM754 359h6v1h-6zM760 360h8v1h-8zM768 361h6v1h-6zM774 362h4v1h-4zM778 363h4v1h-4zM782 364h4v1h-4zM786 365h4v1h-4zM790 366h6v1h-6zM796 367h5v1h-5zM801 368h3v1h-3zM804 369h2v1h-2zM806 370h2v1h-2zM808 371h1v1h-1zM809 372h2v1h-2zM811 373h1v1h-1zM812 374h2v1h-2zM814 375h2v1h-2zM816 376h1v1h-1zM817 377h2v1h-2zM819 378h1v1h-1zM820 379h2v1h-2zM822 380h2v1h-2zM824 381h1v1h-1zM825 382h2v1h-2zM827 383h1v1h-1zM828 384h2v1h-2zM830 385h2v1h-2zM832 386h1v1h-1zM833 387h2v1h-2zM835 388h1v1h-1zM836 389h2v1h-2zM838 390h2v1h-2zM840 391h2v1h-2zM842 392h2v1h-2zM844 393h1v1h-1zM845 394h2v1h-2zM847 395h2v1h-2zM849 396h2v1h-2zM851 397h2v1h-2zM853 398h2v1h-2zM855 399h2v1h-2zM857 400h2v1h-2zM859 401h2v1h-2zM861 402h2v1h-2zM863 403h2v1h-2zM865 404h2v1h-2zM867 405h2v1h-2zM869 406h2v1h-2zM871 407h2v1h-2zM873 408h2v1h-2zM875 409h2v1h-2zM877 410h2v1h-2zM879 411h2v1h-2zM881 412h2v1h-2zM883 413h1v1h-1zM884 414h1v1h-1zM885 415h1v1h-1zM886 416h1v1h-1zM887 417h1v1h-1zM888 418h1v1h-1zM889 419h1v1h-1zM890 420h2v1h-2zM892 421h1v1h-1zM893 422h1v1h-1zM894 423h1v1h-1zM895 424h1v1h-1zM896 425h1v1h-1zM897 426h1v1h-1zM898 427h1v1h-1zM899 428h19v1h-19zM918 427h4v1h-4zM922 426h4v1h-4zM926 425h4v1h-4zM930 424h6v1h-6zM936 423h8v1h-8zM944 422h8v1h-8zM952 421h8v1h-8zM960 420h12v1h-12zM972 419h16v1h-16zM988 418h9v1h-9zM997 417h2v1h-2zM999 416h2v1h-2zM1001 415h3v1h-3zM1004 414h2v1h-2zM1006 413h2v1h-2zM1008 412h2v1h-2zM1010 411h2v1h-2zM1012 410h2v1h-2zM1014 409h2v1h-2zM1016 408h1v1h-1zM1017 407h2v1h-2zM1019 406h1v1h-1zM1020 405h2v1h-2zM1022 404h2v1h-2zM1024 403h1v1h-1zM1025 402h2v1h-2zM1027 401h1v1h-1zM1028 400h2v1h-2zM1030 399h1v1h-1zM1031 398h2v1h-2zM1033 397h1v1h-1zM1034 396h2v1h-2zM1036 395h1v1h-1zM1037 394h1v1h-1zM1038 393h2v1h-2zM1040 392h1v1h-1zM1041 391h2v1h-2zM1043 390h1v1h-1zM1044 389h1v1h-1zM1045 388h2v1h-2zM1047 387h1v1h-1zM1048 386h1v1h-1zM1049 385h1v1h-1zM1050 384h2v1h-2zM1052 383h1v1h-1zM1053 382h1v1h-1zM1054 381h1v1h-1zM1055 380h1v1h-1zM1056 379h2v1h-2zM1058 378h1v1h-1zM1059 377h1v1h-1zM1060 376h2v1h-2zM1062 375h2v1h-2zM1064 374h1v1h-1zM1065 373h2v1h-2zM1067 372h1v1h-1zM1068 371h2v1h-2zM1070 370h2v1h-2zM1072 369h1v1h-1zM1073 368h2v1h-2zM1075 367h2v1h-2zM1077 366h2v1h-2zM1079 365h2v1h-2zM1081 364h3v1h-3zM1084 363h2v1h-2zM1086 362h2v1h-2zM1088 361h2v1h-2zM1090 360h4v1h-4zM1094 359h4v1h-4zM1098 358h4v1h-4zM1102 357h4v1h-4zM1106 356h2v1h-2zM1108 355h2v1h-2zM1110 354h2v1h-2zM1112 353h2v1h-2zM1114 352h2v1h-2zM1116 351h1v1h-1zM1117 350h2v1h-2zM1119 349h2v1h-2zM1121 348h2v1h-2zM1123 347h1v1h-1zM1124 346h1v1h-1zM1125 345h1v1h-1zM1126 344h1v1h-1zM1127 343h1v1h-1zM1128 342h1v1h-1zM1129 341h1v1h-1zM1130 340h2v1h-2zM1132 339h1v1h-1zM1133 338h1v1h-1zM1134 337h1v1h-1zM1135 336h1v1h-1zM1136 335h1v1h-1zM1137 334h1v1h-1zM1138 333h1v1h-1zM1139 332h1v1h-1zM1140 331h1v1h-1zM1141 330h1v1h-1zM1142 329h1v1h-1zM1143 327h1v2h-1zM1144 326h1v1h-1zM1145 325h1v1h-1zM1146 324h1v1h-1zM1147 323h1v1h-1zM1148 322h1v1h-1zM1149 321h1v1h-1zM1150 320h1v1h-1zM1151 318h1v2h-1zM1152 317h1v1h-1zM1153 316h1v1h-1zM1154 315h1v1h-1zM1155 314h1v1h-1zM1156 313h1v1h-1zM1157 312h1v1h-1zM1158 311h1v1h-1zM1159 310h1v1h-1zM1160 309h1v1h-1zM1161 308h1v1h-1zM1162 307h2v1h-2zM1164 306h1v1h-1zM1165 305h1v1h-1zM1166 304h1v1h-1zM1167 303h1v1h-1zM1168 302h1v1h-1zM1169 301h1v1h-1zM1170 300h1v1h-1zM1171 299h1v1h-1zM1172 298h2v1h-2zM1174 297h1v1h-1zM1175 296h2v1h-2zM1177 295h1v1h-1zM1178 294h2v1h-2zM1180 293h1v1h-1zM1181 292h1v1h-1zM1182 291h2v1h-2zM1184 290h1v1h-1zM1185 289h2v1h-2zM1187 288h1v1h-1zM1188 287h2v1h-2zM1190 286h2v1h-2zM1192 285h1v1h-1zM1193 284h2v1h-2zM1195 283h1v1h-1zM1196 282h2v1h-2zM1198 281h2v1h-2zM1200 280h1v1h-1zM1201 279h2v1h-2zM1203 278h1v1h-1zM1204 277h2v1h-2zM1206 276h1v1h-1zM1207 275h2v1h-2zM1209 274h1v1h-1zM1210 273h2v1h-2zM1212 272h1v1h-1zM1213 271h1v1h-1zM1214 270h2v1h-2zM1216 269h1v1h-1zM1217 268h2v1h-2zM1219 267h9v1h-9zM1228 266h12v1h-12zM1240 265h8v1h-8zM1248 264h24v1h-24zM1272 265h8v1h-8zM1280 266h8v1h-8zM1288 267h8v1h-8zM1296 268h6v1h-6zM1302 267h6v1h-6zM1308 266h5v1h-5zM1313 265h7v1h-7zM1320 264h8v1h-8zM1328 263h12v1h-12zM1340 262h48v1h-48zM1388 261h16v1h-16zM1404 262h10v1h-10zM1414 261h6v1h-6zM1420 260h5v1h-5zM1425 259h4v1h-4zM1429 260h3v1h-3zM1432 261h4v1h-4zM1436 262h3v1h-3zM1439 263h3v1h-3zM1442 264h3v1h-3zM1445 265h3v1h-3zM1448 266h4v1h-4zM1452 267h3v1h-3zM1455 268h3v1h-3zM1458 269h2v1h-2z" fill="#3CB371" />
<path d="M3 362h1v2h-1zM4 364h1v2h-1zM5 366h1v2h-1zM6 368h1v2h-1zM7 370h1v3h-1zM8 373h1v2h-1zM9 375h1v2h-1zM10 377h1v2h-1zM11 379h1v3h-1zM12 382h1v2h-1zM13 384h1v2h-1zM14 386h1v2h-1zM15 388h1v3h-1zM16 391h1v2h-1zM17 393h1v2h-1zM18 395h1v2h-1zM19 397h1v2h-1zM20 399h1v2h-1zM21 401h1v2h-1zM22 403h1v2h-1zM23 405h1v2h-1zM24 407h1v2h-1zM25 409h1v2h-1zM26 411h1v2h-1zM27 413h1v2h-1zM28 415h1v2h-1zM29 417h1v2h-1zM30 419h1v2h-1zM31 421h1v2h-1zM32 423h1v2h-1zM33 425h1v2h-1zM34 427h1v2h-1zM35 429h1v1h-1zM36 430h1v1h-1zM37 431h1v1h-1zM38 432h1v2h-1zM39 434h1v1h-1zM40 435h1v1h-1zM41 436h1v1h-1zM42 437h1v1h-1zM43 438h1v2h-1zM44 440h1v1h-1zM45 441h1v1h-1zM46 442h1v1h-1zM47 443h1v1h-1zM48 444h1v2h-1zM49 446h1v1h-1zM50 447h1v1h-1zM51 448h1v1h-1zM52 449h1v1h-1zM53 450h1v1h-1zM54 451h1v1h-1zM55 452h1v2h-1zM56 454h1v1h-1zM57 455h1v1h-1zM58 456h1v1h-1zM59 457h1v1h-1zM60 458h1v1h-1zM61 459h1v1h-1zM62 460h1v1h-1zM63 461h1v2h-1zM64 463h1v1h-1zM65 464h1v1h-1zM66 465h1v1h-1zM67 466h1v1h-1zM68 467h1v1h-1zM69 468h1v1h-1zM70 469h1v1h-1zM71 470h1v1h-1zM72 471h1v1h-1zM73 472h1v1h-1zM74 473h1v1h-1zM75 474h1v2h-1zM76 476h1v1h-1zM77 477h1v1h-1zM78 478h1v1h-1zM79 479h1v1h-1zM80 480h1v1h-1zM81 481h1v1h-1zM82 482h1v1h-1zM83 483h2v1h-2zM85 484h2v1h-2zM87 485h2v1h-2zM89 486h3v1h-3zM92 487h2v1h-2zM94 488h2v1h-2zM96 489h2v1h-2zM98 490h10v1h-10zM108 489h8v1h-8zM116 488h1v1h-1zM117 487h1v1h-1zM118 486h1v1h-1zM119 485h1v1h-1zM120 484h1v1h-1zM121 483h1v1h-1zM122 482h2v1h-2zM124 481h1v1h-1zM125 480h1v1h-1zM126 479h1v1h-1zM127 478h1v1h-1zM128 477h1v1h-1zM129 476h1v1h-1zM130 475h1v1h-1zM131 474h2v1h-2zM133 473h2v1h-2zM135 472h2v1h-2zM137 471h2v1h-2zM139 470h2v1h-2zM141 469h2v1h-2zM143 468h2v1h-2zM145 467h2v1h-2zM147 466h1v1h-1zM148 465h2v1h-2zM150 464h1v1h-1zM151 463h2v1h-2zM153 462h1v1h-1zM154 461h2v1h-2zM156 460h1v1h-1zM157 459h1v1h-1zM158 458h2v1h-2zM160 457h1v1h-1zM161 456h2v1h-2zM163 455h1v1h-1zM164 454h1v1h-1zM165 452h1v2h-1zM166 451h1v1h-1zM167 450h1v1h-1zM168 449h1v1h-1zM169 447h1v2h-1zM170 446h1v1h-1zM171 445h1v1h-1zM172 444h1v1h-1zM173 442h1v2h-1zM174 441h1v1h-1zM175 440h1v1h-1zM176 439h1v1h-1zM177 437h1v2h-1zM178 436h1v1h-1zM179 434h1v2h-1zM180 432h1v2h-1zM181 430h1v2h-1zM182 428h1v2h-1zM183 426h1v2h-1zM184 424h1v2h-1zM185 422h1v2h-1zM186 420h1v2h-1zM187 418h1v2h-1zM188 416h1v2h-1zM189 414h1v2h-1zM190 412h1v2h-1zM191 410h1v2h-1zM192 408h1v2h-1zM193 406h1v2h-1zM194 404h1v2h-1zM195 403h1v1h-1zM196 401h1v2h-1zM197 399h1v2h-1zM198 398h1v1h-1zM199 396h1v2h-1zM200 395h1v1h-1zM201 393h1v2h-1zM202 391h1v2h-1zM203 390h1v1h-1zM204 388h1v2h-1zM205 386h1v2h-1zM206 385h1v1h-1zM207 383h1v2h-1zM208 382h1v1h-1zM209 380h1v2h-1zM210 378h1v2h-1zM211 377h3v1h-3zM214 376h6v1h-6zM220 375h5v1h-5zM225 374h5v1h-5zM230 375h4v1h-4zM234 376h4v1h-4zM238 377h4v1h-4zM242 378h22v1h-22zM264 379h8v1h-8zM272 380h8v1h-8zM280 381h8v1h-8zM288 382h8v1h-8zM296 383h8v1h-8zM304 384h12v1h-12zM316 383h8v1h-8zM324 382h2v1h-2zM326 381h1v1h-1zM327 380h2v1h-2zM329 379h1v1h-1zM330 378h2v1h-2zM332 377h1v1h-1zM333 376h1v1h-1zM334 375h2v1h-2zM336 374h1v1h-1zM337 373h2v1h-2zM339 372h1v1h-1zM340 371h1v1h-1zM341 370h1v1h-1zM342 369h1v1h-1zM343 368h1v1h-1zM344 367h1v1h-1zM345 366h1v1h-1zM346 365h2v1h-2zM348 364h1v1h-1zM349 363h1v1h-1zM350 362h1v1h-1zM351 361h1v1h-1zM352 360h1v1h-1zM353 359h1v1h-1zM354 358h1v1h-1zM355 357h1v1h-1zM356 356h2v1h-2zM358 355h2v1h-2zM360 354h1v1h-1zM361 353h2v1h-2zM363 352h1v1h-1zM364 351h2v1h-2zM366 350h2v1h-2zM368 349h1v1h-1zM369 348h2v1h-2zM371 347h1v1h-1zM372 346h2v1h-2zM374 345h1v1h-1zM375 344h2v1h-2zM377 343h1v1h-1zM378 342h2v1h-2zM380 341h1v1h-1zM381 340h1v1h-1zM382 339h2v1h-2zM384 338h1v1h-1zM385 337h2v1h-2zM387 336h1v1h-1zM388 334h1v2h-1zM389 332h1v2h-1zM390 331h1v1h-1zM391 329h1v2h-1zM392 328h1v1h-1zM393 326h1v2h-1zM394 324h1v2h-1zM395 323h1v1h-1zM396 321h1v2h-1zM397 319h1v2h-1zM398 318h1v1h-1zM399 316h1v2h-1zM400 315h1v1h-1zM401 313h1v2h-1zM402 311h1v2h-1zM403 310h9v1h-9zM412 311h8v1h-8zM420 312h2v1h-2zM422 313h1v1h-1zM423 314h2v1h-2zM425 315h1v1h-1zM426 316h2v1h-2zM428 317h1v1h-1zM429 318h1v1h-1zM430 319h2v1h-2zM432 320h1v1h-1zM433 321h2v1h-2zM435 322h1v1h-1zM436 323h1v2h-1zM437 325h1v2h-1zM438 327h1v2h-1zM439 329h1v2h-1zM440 331h1v2h-1zM441 333h1v2h-1zM442 335h1v2h-1zM443 337h1v1h-1zM444 338h1v2h-1zM445 340h1v2h-1zM446 342h1v2h-1zM447 344h1v2h-1zM448 346h1v2h-1zM449 348h1v2h-1zM450 350h1v2h-1zM451 352h1v1h-1zM452 353h1v1h-1zM453 354h1v1h-1zM454 355h1v1h-1zM455 356h1v1h-1zM456 357h1v1h-1zM457 358h1v1h-1zM458 359h1v1h-1zM459 360h1v1h-1zM460 361h1v1h-1zM461 362h1v1h-1zM462 363h1v1h-1zM463 364h1v1h-1zM464 365h1v1h-1zM465 366h1v1h-1zM466 367h1v1h-1zM467 368h2v1h-2zM469 369h2v1h-2zM471 370h2v1h-2zM473 371h2v1h-2zM475 372h2v1h-2zM477 373h2v1h-2zM479 374h2v1h-2zM481 375h2v1h-2zM483 376h2v1h-2zM485 377h2v1h-2zM487 378h2v1h-2zM489 379h2v1h-2zM491 380h2v1h-2zM493 381h2v1h-2zM495 382h2v1h-2zM497 383h2v1h-2zM499 384h1v1h-1zM500 385h1v1h-1zM501 386h2v1h-2zM503 387h1v1h-1zM504 388h1v1h-1zM505 389h1v1h-1zM506 390h2v1h-2zM508 391h1v1h-1zM509 392h1v1h-1zM510 393h1v1h-1zM511 394h1v1h-1zM512 395h2v1h-2zM514 396h1v1h-1zM515 397h1v1h-1zM516 398h1v1h-1zM517 399h1v2h-1zM518 401h1v1h-1zM519 402h1v1h-1zM520 403h1v1h-1zM521 404h1v2h-1zM522 406h1v1h-1zM523 407h1v1h-1zM524 408h1v1h-1zM525 409h1v2h-1zM526 411h1v1h-1zM527 412h1v1h-1zM528 413h1v1h-1zM529 414h1v2h-1zM530 416h1v1h-1zM531 417h1v1h-1zM532 418h2v1h-2zM534 419h2v1h-2zM536 420h2v1h-2zM538 421h2v1h-2zM540 422h1v1h-1zM541 423h2v1h-2zM543 424h2v1h-2zM545 425h2v1h-2zM547 426h1v1h-1zM548 427h2v1h-2zM550 428h2v1h-2zM552 429h1v1h-1zM553 430h2v1h-2zM555 431h1v1h-1zM556 432h2v1h-2zM558 433h2v1h-2zM560 434h1v1h-1zM561 435h2v1h-2zM563 436h18v1h-18zM581 435h3v1h-3zM584 434h4v1h-4zM588 433h3v1h-3zM591 432h3v1h-3zM594 431h26v1h-26zM620 430h9v1h-9zM629 429h3v1h-3zM632 428h4v1h-4zM636 427h3v1h-3zM639 426h3v1h-3zM642 425h19v1h-19zM661 424h3v1h-3zM664 423h4v1h-4zM668 422h3v1h-3zM671 421h3v1h-3zM674 420h2v1h-2zM676 421h2v1h-2zM678 422h2v1h-2zM680 423h1v1h-1zM681 424h2v1h-2zM683 425h1v1h-1zM684 426h2v1h-2zM686 427h2v1h-2zM688 428h1v1h-1zM689 429h2v1h-2zM691 430h1v1h-1zM692 431h1v2h-1zM693 433h1v1h-1zM694 434h1v2h-1zM695 436h1v2h-1zM696 438h1v1h-1zM697 439h1v2h-1zM698 441h1v1h-1zM699 442h1v2h-1zM700 444h1v1h-1zM701 445h1v2h-1zM702 447h1v1h-1zM703 448h1v2h-1zM704 450h1v2h-1zM705 452h1v1h-1zM706 453h1v2h-1zM707 455h17v1h-17zM724 456h1v1h-1zM725 457h1v1h-1zM726 458h1v1h-1zM727 459h1v2h-1zM728 461h1v1h-1zM729 462h1v1h-1zM730 463h1v1h-1zM731 464h1v1h-1zM732 465h1v1h-1zM733 466h1v1h-1zM734 467h1v1h-1zM735 468h1v2h-1zM736 470h1v1h-1zM737 471h1v1h-1zM738 472h1v1h-1zM739 473h1v1h-1zM740 474h1v1h-1zM741 475h1v1h-1zM742 476h1v1h-1zM743 477h1v1h-1zM744 478h1v1h-1zM745 479h1v1h-1zM746 480h1v1h-1zM747 481h1v1h-1zM748 482h1v1h-1zM749 483h1v1h-1zM750 484h1v1h-1zM751 485h1v1h-1zM752 486h1v1h-1zM753 487h1v1h-1zM754 488h1v1h-1zM755 489h3v1h-3zM758 490h4v1h-4zM762 491h4v1h-4zM766 492h4v1h-4zM770 493h3v1h-3zM773 494h3v1h-3zM776 495h2v1h-2zM778 496h3v1h-3zM781 497h3v1h-3zM784 498h2v1h-2zM786 499h18v1h-18zM804 500h1v1h-1zM805 501h1v1h-1zM806 502h1v2h-1zM807 504h1v1h-1zM808 505h1v1h-1zM809 506h1v1h-1zM810 507h1v1h-1zM811 508h1v2h-1zM812 510h1v1h-1zM813 511h1v1h-1zM814 512h1v1h-1zM815 513h1v1h-1zM816 514h1v2h-1zM817 516h1v1h-1zM818 517h1v1h-1zM819 518h1v1h-1zM820 519h1v2h-1zM821 521h1v1h-1zM822 522h1v2h-1zM823 524h1v1h-1zM824 525h1v2h-1zM825 527h1v1h-1zM826 528h1v2h-1zM827 530h1v1h-1zM828 531h1v2h-1zM829 533h1v1h-1zM830 534h1v2h-1zM831 536h1v1h-1zM832 537h1v2h-1zM833 539h1v1h-1zM834 540h1v2h-1zM835 542h1v1h-1zM836 543h1v1h-1zM837 544h1v2h-1zM838 546h1v1h-1zM839 547h1v1h-1zM840 548h1v2h-1zM841 550h1v1h-1zM842 551h1v1h-1zM843 552h1v2h-1zM844 554h1v1h-1zM845 555h1v1h-1zM846 556h1v2h-1zM847 558h1v1h-1zM848 559h1v1h-1zM849 560h1v2h-1zM850 562h1v1h-1zM851 563h2v1h-2zM853 564h2v1h-2zM855 565h2v1h-2zM857 566h2v1h-2zM859 567h2v1h-2zM861 568h2v1h-2zM863 569h2v1h-2zM865 570h2v1h-2zM867 571h1v1h-1zM868 572h2v1h-2zM870 573h1v1h-1zM871 574h2v1h-2zM873 575h1v1h-1zM874 576h2v1h-2zM876 577h1v1h-1zM877 578h1v1h-1zM878 579h2v1h-2zM880 580h1v1h-1zM881 581h2v1h-2zM883 582h1v1h-1zM884 583h2v1h-2zM886 584h1v1h-1zM1094 584h4v1h-4zM1098 583h4v1h-4zM1102 582h4v1h-4zM1106 581h10v1h-10zM1116 582h8v1h-8zM1124 581h1v1h-1zM1125 579h1v2h-1zM1126 578h1v1h-1zM1127 577h1v1h-1zM1128 575h1v2h-1zM1129 574h1v1h-1zM1130 573h1v1h-1zM1131 571h1v2h-1zM1132 570h1v1h-1zM1133 569h1v1h-1zM1134 567h1v2h-1zM1135 566h1v1h-1zM1136 565h1v1h-1zM1137 563h1v2h-1zM1138 562h1v1h-1zM1139 561h1v1h-1zM1140 559h1v2h-1zM1141 557h1v2h-1zM1142 555h1v2h-1zM1143 553h1v2h-1zM1144 552h1v1h-1zM1145 550h1v2h-1zM1146 548h1v2h-1zM1147 546h1v2h-1zM1148 544h1v2h-1zM1149 542h1v2h-1zM1150 541h1v1h-1zM1151 539h1v2h-1zM1152 537h1v2h-1zM1153 535h1v2h-1zM1154 533h1v2h-1zM1155 531h1v2h-1zM1156 529h1v2h-1zM1157 527h1v2h-1zM1158 525h1v2h-1zM1159 523h1v2h-1zM1160 521h1v2h-1zM1161 519h1v2h-1zM1162 517h1v2h-1zM1163 515h1v2h-1zM1164 513h1v2h-1zM1165 511h1v2h-1zM1166 509h1v2h-1zM1167 507h1v2h-1zM1168 505h1v2h-1zM1169 503h1v2h-1zM1170 501h1v2h-1zM1171 499h1v2h-1zM1172 497h1v2h-1zM1173 495h1v2h-1zM1174 493h1v2h-1zM1175 491h1v2h-1zM1176 489h1v2h-1zM1177 487h1v2h-1zM1178 485h1v2h-1zM1179 483h1v2h-1zM1180 481h1v2h-1zM1181 479h1v2h-1zM1182 477h1v2h-1zM1183 475h1v2h-1zM1184 473h1v2h-1zM1185 471h1v2h-1zM1186 469h1v2h-1zM1187 466h1v3h-1zM1188 463h1v3h-1zM1189 461h1v2h-1zM1190 458h1v3h-1zM1191 455h1v3h-1zM1192 452h1v3h-1zM1193 450h1v2h-1zM1194 447h1v3h-1zM1195 444h1v3h-1zM1196 441h1v3h-1zM1197 439h1v2h-1zM1198 436h1v3h-1zM1199 433h1v3h-1zM1200 430h1v3h-1zM1201 428h1v2h-1zM1202 425h1v3h-1zM1203 421h1v4h-1zM1204 416h1v5h-1zM1205 412h1v4h-1zM1206 407h1v5h-1zM1207 402h1v5h-1zM1208 398h1v4h-1zM1209 393h1v5h-1zM1210 388h1v5h-1zM1211 384h1v4h-1zM1212 379h1v5h-1zM1213 374h1v5h-1zM1214 370h1v4h-1zM1215 365h1v5h-1zM1216 360h1v5h-1zM1217 356h1v4h-1zM1218 351h1v5h-1zM1219 348h1v3h-1zM1220 348h8v1h-8zM1228 347h16v1h-16zM1244 346h28v1h-28zM1272 347h8v1h-8zM1280 348h5v1h-5zM1285 349h2v1h-2zM1287 350h2v1h-2zM1289 351h2v1h-2zM1291 352h2v1h-2zM1293 353h2v1h-2zM1295 354h2v1h-2zM1297 355h2v1h-2zM1299 356h2v1h-2zM1301 355h3v1h-3zM1304 354h4v1h-4zM1308 353h3v1h-3zM1311 352h3v1h-3zM1314 351h10v1h-10zM1324 350h16v1h-16zM1340 349h16v1h-16zM1356 350h48v1h-48zM1404 351h8v1h-8zM1412 350h2v1h-2zM1414 349h2v1h-2zM1416 348h1v1h-1zM1417 347h2v1h-2zM1419 346h1v1h-1zM1420 345h2v1h-2zM1422 344h2v1h-2zM1424 343h1v1h-1zM1425 342h2v1h-2zM1427 341h5v1h-5zM1432 342h8v1h-8zM1440 343h8v1h-8zM1448 344h8v1h-8zM1456 345h4v1h-4z" fill="#3CB371" />
<rect x="3" y="195" width="1867" height="1" fill="#FF0000"/><rect x="3" y="193" width="5" height="5" fill="#FF0000"/><rect x="4" y="194" width="3" height="3" fill="#FFFFF0"/><rect x="1865" y="193" width="5" height="5" fill="#FF0000"/><rect x="1866" y="194" width="3" height="3" fill="#FFFFF0"/>
<rect x="3" y="253" width="1867" height="1" fill="#FF0000"/><rect x="3" y="251" width="5" height="5" fill="#FF0000"/><rect x="4" y="252" width="3" height="3" fill="#FFFFF0"/><rect x="1865" y="251" width="5" height="5" fill="#FF0000"/><rect x="1866" y="252" width="3" height="3" fill="#FFFFF0"/>
<rect x="3" y="347" width="1867" height="1" fill="#FF0000"/><rect x="3" y="345" width="5" height="5" fill="#FF0000"/><rect x="4" y="346" width="3" height="3" fill="#FFFFF0"/><rect x="1865" y="345" width="5" height="5" fill="#FF0000"/><rect x="1866" y="346" width="3" height="3" fill="#FFFFF0"/>
<rect x="3" y="417" width="1867" height="1" fill="#FF0000"/><rect x="3" y="415" width="5" height="5" fill="#FF0000"/><rect x="4" y="416" width="3" height="3" fill="#FFFFF0"/><rect x="1865" y="415" width="5" height="5" fill="#FF0000"/><rect x="1866" y="416" width="3" height="3" fill="#FFFFF0"/>
</g>
<g clip-path="url(#ci)">
<g shape-rendering="crispEdges">
<rect x="2" y="655" width="2" height="48" fill="#008000"/><rect x="18" y="655" width="2" height="44" fill="#008000"/><rect x="34" y="655" width="2" height="35" fill="#008000"/><rect x="50" y="655" width="2" height="24" fill="#008000"/><rect x="66" y="655" width="2" height="15" fill="#008000"/><rect x="82" y="655" width="2" height="12" fill="#008000"/><rect x="98" y="655" width="2" height="6" fill="#008000"/><rect x="114" y="651" width="2" height="4" fill="#FF0000"/><rect x="130" y="636" width="2" height="19" fill="#FF0000"/><rect x="146" y="628" width="2" height="27" fill="#FF0000"/><rect x="162" y="622" width="2" height="33" fill="#FF0000"/><rect x="178" y="619" width="2" height="36" fill="#FF0000"/><rect x="194" y="620" width="2" height="35" fill="#FF0000"/><rect x="210" y="617" width="2" height="38" fill="#FF0000"/><rect x="226" y="607" width="2" height="48" fill="#FF0000"/><rect x="242" y="605" width="2" height="50" fill="#FF0000"/><rect x="258" y="606" width="2" height="49" fill="#FF0000"/><rect x="274" y="605" width="2" height="50" fill="#FF0000"/><rect x="290" y="606" width="2" height="49" fill="#FF0000"/><rect x="306" y="613" width="2" height="42" fill="#FF0000"/><rect x="322" y="620" width="2" height="35" fill="#FF0000"/><rect x="338" y="634" width="2" height="21" fill="#FF0000"/><rect x="354" y="645" width="2" height="10" fill="#FF0000"/><rect x="370" y="655" width="2" height="2" fill="#008000"/><rect x="386" y="655" width="2" height="9" fill="#008000"/><rect x="402" y="655" width="2" height="3" fill="#008000"/><rect x="418" y="655" width="2" height="18" fill="#008000"/><rect x="434" y="655" width="2" height="28" fill="#008000"/><rect x="450" y="655" width="2" height="39" fill="#008000"/><rect x="466" y="655" width="2" height="36" fill="#008000"/><rect x="482" y="655" width="2" height="32" fill="#008000"/><rect x="498" y="655" width="2" height="25" fill="#008000"/><rect x="514" y="655" width="2" height="23" fill="#008000"/><rect x="530" y="655" width="2" height="22" fill="#008000"/><rect x="546" y="655" width="2" height="15" fill="#008000"/><rect x="562" y="655" width="2" height="10" fill="#008000"/><rect x="578" y="651" width="2" height="4" fill="#FF0000"/><rect x="594" y="644" width="2" height="11" fill="#FF0000"/><rect x="610" y="648" width="2" height="7" fill="#FF0000"/><rect x="626" y="649" width="2" height="6" fill="#FF0000"/><rect x="642" y="649" width="2" height="6" fill="#FF0000"/><rect x="658" y="647" width="2" height="8" fill="#FF0000"/><rect x="674" y="646" width="2" height="9" fill="#FF0000"/><rect x="690" y="655" width="2" height="1" fill="#008000"/><rect x="706" y="655" width="2" height="14" fill="#008000"/><rect x="722" y="655" width="2" height="21" fill="#008000"/><rect x="738" y="655" width="2" height="23" fill="#008000"/><rect x="754" y="655" width="2" height="23" fill="#008000"/><rect x="770" y="655" width="2" height="16" fill="#008000"/><rect x="786" y="655" width="2" height="9" fill="#008000"/><rect x="802" y="652" width="2" height="3" fill="#FF0000"/><rect x="818" y="655" width="2" height="3" fill="#008000"/><rect x="834" y="655" width="2" height="8" fill="#008000"/><rect x="850" y="655" width="2" height="10" fill="#008000"/><rect x="866" y="655" width="2" height="6" fill="#008000"/><rect x="882" y="655" width="2" height="6" fill="#008000"/><rect x="898" y="655" width="2" height="9" fill="#008000"/><rect x="914" y="635" width="2" height="20" fill="#FF0000"/><rect x="930" y="616" width="2" height="39" fill="#FF0000"/><rect x="946" y="604" width="2" height="51" fill="#FF0000"/><rect x="962" y="598" width="2" height="57" fill="#FF0000"/><rect x="978" y="597" width="2" height="58" fill="#FF0000"/><rect x="994" y="602" width="2" height="53" fill="#FF0000"/><rect x="1010" y="604" width="2" height="51" fill="#FF0000"/><rect x="1026" y="609" width="2" height="46" fill="#FF0000"/><rect x="1042" y="616" width="2" height="39" fill="#FF0000"/><rect x="1058" y="619" width="2" height="36" fill="#FF0000"/><rect x="1074" y="627" width="2" height="28" fill="#FF0000"/><rect x="1090" y="635" width="2" height="20" fill="#FF0000"/><rect x="1106" y="649" width="2" height="6" fill="#FF0000"/><rect x="1122" y="644" width="2" height="11" fill="#FF0000"/><rect x="1138" y="642" width="2" height="13" fill="#FF0000"/><rect x="1154" y="640" width="2" height="15" fill="#FF0000"/><rect x="1170" y="645" width="2" height="10" fill="#FF0000"/><rect x="1186" y="653" width="2" height="2" fill="#FF0000"/><rect x="1202" y="655" width="2" height="8" fill="#008000"/><rect x="1218" y="655" width="2" height="15" fill="#008000"/><rect x="1234" y="655" width="2" height="12" fill="#008000"/><rect x="1250" y="655" width="2" height="13" fill="#008000"/><rect x="1266" y="655" width="2" height="16" fill="#008000"/><rect x="1282" y="655" width="2" height="20" fill="#008000"/><rect x="1298" y="655" width="2" height="23" fill="#008000"/><rect x="1314" y="655" width="2" height="16" fill="#008000"/><rect x="1330" y="655" width="2" height="7" fill="#008000"/><rect x="1346" y="655" width="2" height="2" fill="#008000"/><rect x="1362" y="655" width="2" height="2" fill="#008000"/><rect x="1378" y="652" width="2" height="3" fill="#FF0000"/><rect x="1394" y="650" width="2" height="5" fill="#FF0000"/><rect x="1410" y="654" width="2" height="1" fill="#FF0000"/><rect x="1426" y="655" width="2" height="5" fill="#008000"/><rect x="1442" y="655" width="2" height="9" fill="#008000"/><rect x="1458" y="655" width="2" height="14" fill="#008000"/>
</g>
<path d="M3 748h2v1h-2zM5 749h2v1h-2zM7 750h2v1h-2zM9 751h3v1h-3zM12 752h2v1h-2zM14 753h2v1h-2zM16 754h2v1h-2zM18 755h4v1h-4zM22 756h4v1h-4zM26 757h4v1h-4zM30 758h4v1h-4zM34 759h10v1h-10zM44 760h16v1h-16zM60 759h12v1h-12zM72 760h8v1h-8zM80 761h8v1h-8zM88 760h8v1h-8zM96 759h5v1h-5zM101 758h2v1h-2zM103 757h2v1h-2zM105 756h3v1h-3zM108 755h2v1h-2zM110 754h2v1h-2zM112 753h2v1h-2zM114 752h2v1h-2zM116 751h2v1h-2zM118 750h1v1h-1zM119 749h1v1h-1zM120 748h2v1h-2zM122 747h1v1h-1zM123 746h1v1h-1zM124 745h2v1h-2zM126 744h1v1h-1zM127 743h1v1h-1zM128 742h2v1h-2zM130 741h1v1h-1zM131 740h2v1h-2zM133 739h2v1h-2zM135 738h2v1h-2zM137 737h2v1h-2zM139 736h2v1h-2zM141 735h2v1h-2zM143 734h2v1h-2zM145 733h2v1h-2zM147 732h2v1h-2zM149 731h2v1h-2zM151 730h2v1h-2zM153 729h2v1h-2zM155 728h2v1h-2zM157 727h2v1h-2zM159 726h2v1h-2zM161 725h2v1h-2zM163 724h2v1h-2zM165 723h3v1h-3zM168 722h2v1h-2zM170 721h3v1h-3zM173 720h3v1h-3zM176 719h2v1h-2zM178 718h3v1h-3zM181 717h3v1h-3zM184 716h4v1h-4zM188 715h3v1h-3zM191 714h3v1h-3zM194 713h3v1h-3zM197 712h2v1h-2zM199 711h2v1h-2zM201 710h2v1h-2zM203 709h2v1h-2zM205 708h2v1h-2zM207 707h2v1h-2zM209 706h2v1h-2zM211 705h1v1h-1zM212 704h1v1h-1zM213 703h1v1h-1zM214 702h1v1h-1zM215 701h1v1h-1zM216 700h1v1h-1zM217 699h1v1h-1zM218 698h2v1h-2zM220 697h1v1h-1zM221 696h1v1h-1zM222 695h1v1h-1zM223 694h1v1h-1zM224 693h1v1h-1zM225 692h1v1h-1zM226 691h1v1h-1zM227 690h1v1h-1zM228 689h2v1h-2zM230 688h1v1h-1zM231 687h2v1h-2zM233 686h1v1h-1zM234 685h2v1h-2zM236 684h1v1h-1zM237 683h1v1h-1zM238 682h2v1h-2zM240 681h1v1h-1zM241 680h2v1h-2zM243 679h2v1h-2zM245 678h2v1h-2zM247 677h2v1h-2zM249 676h2v1h-2zM251 675h2v1h-2zM253 674h2v1h-2zM255 673h2v1h-2zM257 672h2v1h-2zM259 671h1v1h-1zM260 670h2v1h-2zM262 669h2v1h-2zM264 668h1v1h-1zM265 667h2v1h-2zM267 666h1v1h-1zM268 665h2v1h-2zM270 664h2v1h-2zM272 663h1v1h-1zM273 662h2v1h-2zM275 661h2v1h-2zM277 660h2v1h-2zM279 659h2v1h-2zM281 658h2v1h-2zM283 657h2v1h-2zM285 656h2v1h-2zM287 655h2v1h-2zM289 654h2v1h-2zM291 653h3v1h-3zM294 652h6v1h-6zM300 651h5v1h-5zM305 650h7v1h-7zM312 649h8v1h-8zM320 648h6v1h-6zM326 649h6v1h-6zM332 650h5v1h-5zM337 651h5v1h-5zM342 652h6v1h-6zM348 653h5v1h-5zM353 654h4v1h-4zM357 655h3v1h-3zM360 656h2v1h-2zM362 657h3v1h-3zM365 658h3v1h-3zM368 659h2v1h-2zM370 660h4v1h-4zM374 661h6v1h-6zM380 662h5v1h-5zM385 663h4v1h-4zM389 662h3v1h-3zM392 661h4v1h-4zM396 660h3v1h-3zM399 659h3v1h-3zM402 658h2v1h-2zM404 659h1v1h-1zM405 660h1v1h-1zM406 661h2v1h-2zM408 662h1v1h-1zM409 663h1v1h-1zM410 664h1v1h-1zM411 665h1v1h-1zM412 666h1v1h-1zM413 667h1v1h-1zM414 668h2v1h-2zM416 669h1v1h-1zM417 670h1v1h-1zM418 671h1v1h-1zM419 672h1v1h-1zM420 673h2v1h-2zM422 674h2v1h-2zM424 675h1v1h-1zM425 676h2v1h-2zM427 677h1v1h-1zM428 678h2v1h-2zM430 679h2v1h-2zM432 680h1v1h-1zM433 681h2v1h-2zM435 682h1v1h-1zM436 683h2v1h-2zM438 684h1v1h-1zM439 685h2v1h-2zM441 686h1v1h-1zM442 687h2v1h-2zM444 688h1v1h-1zM445 689h1v1h-1zM446 690h2v1h-2zM448 691h1v1h-1zM449 692h2v1h-2zM451 693h2v1h-2zM453 694h3v1h-3zM456 695h4v1h-4zM460 696h3v1h-3zM463 697h3v1h-3zM466 698h10v1h-10zM476 699h16v1h-16zM492 698h10v1h-10zM502 699h4v1h-4zM506 700h4v1h-4zM510 701h4v1h-4zM514 702h4v1h-4zM518 703h4v1h-4zM522 704h4v1h-4zM526 705h4v1h-4zM530 706h35v1h-35zM565 705h2v1h-2zM567 704h2v1h-2zM569 703h2v1h-2zM571 702h2v1h-2zM573 701h2v1h-2zM575 700h2v1h-2zM577 699h2v1h-2zM579 698h2v1h-2zM581 697h3v1h-3zM584 696h4v1h-4zM588 695h3v1h-3zM591 694h3v1h-3zM594 693h6v1h-6zM600 694h8v1h-8zM608 695h12v1h-12zM620 696h16v1h-16zM636 695h12v1h-12zM648 694h8v1h-8zM656 693h6v1h-6zM662 692h6v1h-6zM668 691h5v1h-5zM673 690h4v1h-4zM677 691h3v1h-3zM680 692h2v1h-2zM682 693h3v1h-3zM685 694h3v1h-3zM688 695h2v1h-2zM690 696h2v1h-2zM692 697h2v1h-2zM694 698h2v1h-2zM696 699h1v1h-1zM697 700h2v1h-2zM699 701h1v1h-1zM700 702h2v1h-2zM702 703h2v1h-2zM704 704h1v1h-1zM705 705h2v1h-2zM707 706h2v1h-2zM709 707h2v1h-2zM711 708h2v1h-2zM713 709h3v1h-3zM716 710h2v1h-2zM718 711h2v1h-2zM720 712h2v1h-2zM722 713h4v1h-4zM726 714h4v1h-4zM730 715h4v1h-4zM734 716h4v1h-4zM738 717h4v1h-4zM742 718h6v1h-6zM748 719h5v1h-5zM753 720h5v1h-5zM758 719h4v1h-4zM762 718h4v1h-4zM766 717h4v1h-4zM770 716h6v1h-6zM776 715h8v1h-8zM784 714h5v1h-5zM789 713h2v1h-2zM791 712h2v1h-2zM793 711h3v1h-3zM796 710h2v1h-2zM798 709h2v1h-2zM800 708h2v1h-2zM802 707h3v1h-3zM805 708h3v1h-3zM808 709h4v1h-4zM812 710h3v1h-3zM815 711h3v1h-3zM818 712h3v1h-3zM821 713h2v1h-2zM823 714h2v1h-2zM825 715h2v1h-2zM827 716h2v1h-2zM829 717h2v1h-2zM831 718h2v1h-2zM833 719h2v1h-2zM835 720h3v1h-3zM838 721h6v1h-6zM844 722h5v1h-5zM849 723h7v1h-7zM856 722h8v1h-8zM864 721h22v1h-22zM886 722h6v1h-6zM892 723h5v1h-5zM897 724h3v1h-3zM900 722h1v2h-1zM901 721h1v1h-1zM902 720h1v1h-1zM903 718h1v2h-1zM904 717h1v1h-1zM905 716h1v1h-1zM906 714h1v2h-1zM907 713h1v1h-1zM908 711h1v2h-1zM909 710h1v1h-1zM910 709h1v1h-1zM911 707h1v2h-1zM912 706h1v1h-1zM913 705h1v1h-1zM914 703h1v2h-1zM915 702h1v1h-1zM916 701h1v1h-1zM917 700h1v1h-1zM918 698h1v2h-1zM919 697h1v1h-1zM920 696h1v1h-1zM921 695h1v1h-1zM922 694h1v1h-1zM923 692h1v2h-1zM924 691h1v1h-1zM925 690h1v1h-1zM926 689h1v1h-1zM927 688h1v1h-1zM928 686h1v2h-1zM929 685h1v1h-1zM930 684h1v1h-1zM931 683h1v1h-1zM932 682h1v1h-1zM933 681h1v1h-1zM934 680h2v1h-2zM936 679h1v1h-1zM937 678h1v1h-1zM938 677h1v1h-1zM939 676h1v1h-1zM940 675h1v1h-1zM941 674h1v1h-1zM942 673h2v1h-2zM944 672h1v1h-1zM945 671h1v1h-1zM946 670h1v1h-1zM947 669h1v1h-1zM948 668h2v1h-2zM950 667h2v1h-2zM952 666h1v1h-1zM953 665h2v1h-2zM955 664h1v1h-1zM956 663h2v1h-2zM958 662h2v1h-2zM960 661h1v1h-1zM961 660h2v1h-2zM963 659h1v1h-1zM964 658h2v1h-2zM966 657h2v1h-2zM968 656h2v1h-2zM970 655h2v1h-2zM972 654h1v1h-1zM973 653h2v1h-2zM975 652h2v1h-2zM977 651h2v1h-2zM979 650h2v1h-2zM981 649h3v1h-3zM984 648h4v1h-4zM988 647h3v1h-3zM991 646h3v1h-3zM994 645h3v1h-3zM997 644h2v1h-2zM999 643h2v1h-2zM1001 642h2v1h-2zM1003 641h2v1h-2zM1005 640h2v1h-2zM1007 639h2v1h-2zM1009 638h2v1h-2zM1011 637h2v1h-2zM1013 636h3v1h-3zM1016 635h2v1h-2zM1018 634h3v1h-3zM1021 633h3v1h-3zM1024 632h2v1h-2zM1026 631h3v1h-3zM1029 630h3v1h-3zM1032 629h2v1h-2zM1034 628h3v1h-3zM1037 627h3v1h-3zM1040 626h2v1h-2zM1042 625h3v1h-3zM1045 624h3v1h-3zM1048 623h2v1h-2zM1050 622h3v1h-3zM1053 621h3v1h-3zM1056 620h2v1h-2zM1058 619h10v1h-10zM1068 618h25v1h-25zM1093 619h2v1h-2zM1095 620h2v1h-2zM1097 621h3v1h-3zM1100 622h2v1h-2zM1102 623h2v1h-2zM1104 624h2v1h-2zM1106 625h3v1h-3zM1109 624h2v1h-2zM1111 623h2v1h-2zM1113 622h3v1h-3zM1116 621h2v1h-2zM1118 620h2v1h-2zM1120 619h2v1h-2zM1122 618h3v1h-3zM1125 617h3v1h-3zM1128 616h4v1h-4zM1132 615h3v1h-3zM1135 614h3v1h-3zM1138 613h3v1h-3zM1141 612h3v1h-3zM1144 611h4v1h-4zM1148 610h3v1h-3zM1151 609h3v1h-3zM1154 608h6v1h-6zM1160 609h8v1h-8zM1168 610h5v1h-5zM1173 611h3v1h-3zM1176 612h4v1h-4zM1180 613h3v1h-3zM1183 614h3v1h-3zM1186 615h3v1h-3zM1189 616h2v1h-2zM1191 617h2v1h-2zM1193 618h3v1h-3zM1196 619h2v1h-2zM1198 620h2v1h-2zM1200 621h2v1h-2zM1202 622h3v1h-3zM1205 623h2v1h-2zM1207 624h2v1h-2zM1209 625h3v1h-3zM1212 626h2v1h-2zM1214 627h2v1h-2zM1216 628h2v1h-2zM1218 629h10v1h-10zM1228 628h16v1h-16zM1244 629h10v1h-10zM1254 630h4v1h-4zM1258 631h4v1h-4zM1262 632h4v1h-4zM1266 633h3v1h-3zM1269 634h3v1h-3zM1272 635h2v1h-2zM1274 636h3v1h-3zM1277 637h3v1h-3zM1280 638h2v1h-2zM1282 639h3v1h-3zM1285 640h3v1h-3zM1288 641h2v1h-2zM1290 642h3v1h-3zM1293 643h3v1h-3zM1296 644h2v1h-2zM1298 645h6v1h-6zM1304 644h8v1h-8zM1312 643h6v1h-6zM1318 642h4v1h-4zM1322 641h4v1h-4zM1326 640h4v1h-4zM1330 639h4v1h-4zM1334 638h6v1h-6zM1340 637h5v1h-5zM1345 636h7v1h-7zM1352 637h8v1h-8zM1360 638h6v1h-6zM1366 637h6v1h-6zM1372 636h5v1h-5zM1377 635h21v1h-21zM1398 636h6v1h-6zM1404 637h5v1h-5zM1409 638h5v1h-5zM1414 639h4v1h-4zM1418 640h4v1h-4zM1422 641h4v1h-4zM1426 642h4v1h-4zM1430 643h4v1h-4zM1434 644h4v1h-4zM1438 645h4v1h-4zM1442 646h4v1h-4zM1446 647h4v1h-4zM1450 648h4v1h-4zM1454 649h4v1h-4zM1458 650h2v1h-2z" fill="#0000FF" shape-rendering="crispEdges"/>
<path d="M3 711h1v2h-1zM4 712h2v2h-2zM6 713h1v2h-1zM7 714h2v2h-2zM9 715h1v2h-1zM10 716h2v2h-2zM12 717h1v2h-1zM13 718h1v2h-1zM14 719h2v2h-2zM16 720h1v2h-1zM17 721h2v2h-2zM19 722h1v2h-1zM20 723h2v2h-2zM22 724h2v2h-2zM24 725h1v2h-1zM25 726h2v2h-2zM27 727h1v2h-1zM28 728h2v2h-2zM30 729h2v2h-2zM32 730h1v2h-1zM33 731h2v2h-2zM35 732h1v2h-1zM36 733h2v2h-2zM38 734h2v2h-2zM40 735h1v2h-1zM41 736h2v2h-2zM43 737h1v2h-1zM44 738h2v2h-2zM46 739h2v2h-2zM48 740h1v2h-1zM49 741h2v2h-2zM51 742h2v2h-2zM53 743h3v2h-3zM56 744h2v2h-2zM58 745h3v2h-3zM61 746h3v2h-3zM64 747h2v2h-2zM66 748h3v2h-3zM69 749h3v2h-3zM72 750h4v2h-4zM76 751h3v2h-3zM79 752h3v2h-3zM82 753h6v2h-6zM88 754h8v2h-8zM96 755h38v2h-38zM134 754h6v2h-6zM140 753h5v2h-5zM145 752h5v2h-5zM150 751h6v2h-6zM156 750h5v2h-5zM161 749h4v2h-4zM165 748h3v2h-3zM168 747h4v2h-4zM172 746h3v2h-3zM175 745h3v2h-3zM178 744h3v2h-3zM181 743h3v2h-3zM184 742h4v2h-4zM188 741h3v2h-3zM191 740h3v2h-3zM194 739h3v2h-3zM197 738h3v2h-3zM200 737h2v2h-2zM202 736h3v2h-3zM205 735h3v2h-3zM208 734h2v2h-2zM210 733h3v2h-3zM213 732h2v2h-2zM215 731h2v2h-2zM217 730h2v2h-2zM219 729h2v2h-2zM221 728h2v2h-2zM223 727h2v2h-2zM225 726h2v2h-2zM227 725h1v2h-1zM228 724h2v2h-2zM230 723h2v2h-2zM232 722h2v2h-2zM234 721h2v2h-2zM236 720h1v2h-1zM237 719h2v2h-2zM239 718h2v2h-2zM241 717h2v2h-2zM243 716h1v2h-1zM244 715h2v2h-2zM246 714h2v2h-2zM248 713h2v2h-2zM250 712h2v2h-2zM252 711h1v2h-1zM253 710h2v2h-2zM255 709h2v2h-2zM257 708h2v2h-2zM259 707h1v2h-1zM260 706h2v2h-2zM262 705h2v2h-2zM264 704h2v2h-2zM266 703h2v2h-2zM268 702h1v2h-1zM269 701h2v2h-2zM271 700h2v2h-2zM273 699h2v2h-2zM275 698h1v2h-1zM276 697h2v2h-2zM278 696h2v2h-2zM280 695h2v2h-2zM282 694h2v2h-2zM284 693h1v2h-1zM285 692h2v2h-2zM287 691h2v2h-2zM289 690h2v2h-2zM291 689h2v2h-2zM293 688h2v2h-2zM295 687h2v2h-2zM297 686h2v2h-2zM299 685h2v2h-2zM301 684h2v2h-2zM303 683h2v2h-2zM305 682h2v2h-2zM307 681h2v2h-2zM309 680h2v2h-2zM311 679h2v2h-2zM313 678h2v2h-2zM315 677h2v2h-2zM317 676h2v2h-2zM319 675h2v2h-2zM321 674h2v2h-2zM323 673h2v2h-2zM325 672h3v2h-3zM328 671h2v2h-2zM330 670h3v2h-3zM333 669h3v2h-3zM336 668h2v2h-2zM338 667h3v2h-3zM341 666h3v2h-3zM344 665h4v2h-4zM348 664h3v2h-3zM351 663h3v2h-3zM354 662h4v2h-4zM358 661h6v2h-6zM364 660h5v2h-5zM369 659h7v2h-7zM376 658h8v2h-8zM384 657h12v2h-12zM396 656h16v2h-16zM412 657h12v2h-12zM424 658h8v2h-8zM432 659h5v2h-5zM437 660h3v2h-3zM440 661h4v2h-4zM444 662h3v2h-3zM447 663h3v2h-3zM450 664h3v2h-3zM453 665h3v2h-3zM456 666h4v2h-4zM460 667h3v2h-3zM463 668h3v2h-3zM466 669h3v2h-3zM469 670h3v2h-3zM472 671h4v2h-4zM476 672h3v2h-3zM479 673h3v2h-3zM482 674h3v2h-3zM485 675h3v2h-3zM488 676h2v2h-2zM490 677h3v2h-3zM493 678h3v2h-3zM496 679h2v2h-2zM498 680h3v2h-3zM501 681h3v2h-3zM504 682h4v2h-4zM508 683h3v2h-3zM511 684h3v2h-3zM514 685h3v2h-3zM517 686h3v2h-3zM520 687h4v2h-4zM524 688h3v2h-3zM527 689h3v2h-3zM530 690h3v2h-3zM533 691h3v2h-3zM536 692h4v2h-4zM540 693h3v2h-3zM543 694h3v2h-3zM546 695h4v2h-4zM550 696h4v2h-4zM554 697h4v2h-4zM558 698h4v2h-4zM562 699h10v2h-10zM572 700h32v2h-32zM604 699h48v2h-48zM652 698h12v2h-12zM664 697h8v2h-8zM672 696h12v2h-12zM684 695h32v2h-32zM716 696h10v2h-10zM726 697h6v2h-6zM732 698h5v2h-5zM737 699h5v2h-5zM742 700h6v2h-6zM748 701h5v2h-5zM753 702h5v2h-5zM758 703h6v2h-6zM764 704h5v2h-5zM769 705h7v2h-7zM776 706h8v2h-8zM784 707h12v2h-12zM796 708h12v2h-12zM808 709h8v2h-8zM816 710h6v2h-6zM822 711h6v2h-6zM828 712h5v2h-5zM833 713h7v2h-7zM840 714h8v2h-8zM848 715h12v2h-12zM860 716h16v2h-16zM876 717h28v2h-28zM904 716h8v2h-8zM912 715h6v2h-6zM918 714h4v2h-4zM922 713h4v2h-4zM926 712h4v2h-4zM930 711h4v2h-4zM934 710h4v2h-4zM938 709h4v2h-4zM942 708h4v2h-4zM946 707h3v2h-3zM949 706h3v2h-3zM952 705h4v2h-4zM956 704h3v2h-3zM959 703h3v2h-3zM962 702h2v2h-2zM964 701h2v2h-2zM966 700h2v2h-2zM968 699h2v2h-2zM970 698h2v2h-2zM972 697h1v2h-1zM973 696h2v2h-2zM975 695h2v2h-2zM977 694h2v2h-2zM979 693h2v2h-2zM981 692h2v2h-2zM983 691h2v2h-2zM985 690h2v2h-2zM987 689h2v2h-2zM989 688h2v2h-2zM991 687h2v2h-2zM993 686h2v2h-2zM995 685h1v2h-1zM996 684h2v2h-2zM998 683h2v2h-2zM1000 682h1v2h-1zM1001 681h2v2h-2zM1003 680h1v2h-1zM1004 679h2v2h-2zM1006 678h2v2h-2zM1008 677h1v2h-1zM1009 676h2v2h-2zM1011 675h1v2h-1zM1012 674h2v2h-2zM1014 673h2v2h-2zM1016 672h1v2h-1zM1017 671h2v2h-2zM1019 670h1v2h-1zM1020 669h2v2h-2zM1022 668h2v2h-2zM1024 667h1v2h-1zM1025 666h2v2h-2zM1027 665h1v2h-1zM1028 664h2v2h-2zM1030 663h2v2h-2zM1032 662h1v2h-1zM1033 661h2v2h-2zM1035 660h1v2h-1zM1036 659h2v2h-2zM1038 658h2v2h-2zM1040 657h1v2h-1zM1041 656h2v2h-2zM1043 655h1v2h-1zM1044 654h2v2h-2zM1046 653h2v2h-2zM1048 652h1v2h-1zM1049 651h2v2h-2zM1051 650h1v2h-1zM1052 649h2v2h-2zM1054 648h2v2h-2zM1056 647h1v2h-1zM1057 646h2v2h-2zM1059 645h2v2h-2zM1061 644h2v2h-2zM1063 643h2v2h-2zM1065 642h3v2h-3zM1068 641h2v2h-2zM1070 640h2v2h-2zM1072 639h2v2h-2zM1074 638h3v2h-3zM1077 637h3v2h-3zM1080 636h4v2h-4zM1084 635h3v2h-3zM1087 634h3v2h-3zM1090 633h4v2h-4zM1094 632h4v2h-4zM1098 631h4v2h-4zM1102 630h4v2h-4zM1106 629h4v2h-4zM1110 628h4v2h-4zM1114 627h4v2h-4zM1118 626h4v2h-4zM1122 625h4v2h-4zM1126 624h6v2h-6zM1132 623h5v2h-5zM1137 622h5v2h-5zM1142 621h6v2h-6zM1148 620h5v2h-5zM1153 619h5v2h-5zM1158 618h6v2h-6zM1164 617h5v2h-5zM1169 616h11v2h-11zM1180 615h28v2h-28zM1208 616h8v2h-8zM1216 617h12v2h-12zM1228 618h28v2h-28zM1256 619h8v2h-8zM1264 620h8v2h-8zM1272 621h8v2h-8zM1280 622h6v2h-6zM1286 623h4v2h-4zM1290 624h4v2h-4zM1294 625h4v2h-4zM1298 626h4v2h-4zM1302 627h4v2h-4zM1306 628h4v2h-4zM1310 629h4v2h-4zM1314 630h4v2h-4zM1318 631h4v2h-4zM1322 632h4v2h-4zM1326 633h4v2h-4zM1330 634h10v2h-10zM1340 635h16v2h-16zM1356 636h16v2h-16zM1372 637h16v2h-16zM1388 638h56v2h-56zM1444 639h16v2h-16z" fill="#FF0000" shape-rendering="crispEdges"/>
</g>
<g shape-rendering="crispEdges" fill="#000">
<rect x="2" y="2" width="1869" height="1"/><rect x="2" y="2" width="1" height="584"/><rect x="2" y="585" width="1869" height="1"/><rect x="2" y="587" width="1869" height="1"/><rect x="2" y="587" width="1" height="184"/><rect x="2" y="770" width="1869" height="1"/><rect x="1870" y="2" width="1" height="769"/>
<rect x="1871" y="21" width="2" height="1"/><rect x="1871" y="54" width="2" height="1"/><rect x="1871" y="87" width="2" height="1"/><rect x="1871" y="120" width="2" height="1"/><rect x="1871" y="153" width="2" height="1"/><rect x="1871" y="186" width="2" height="1"/><rect x="1871" y="219" width="2" height="1"/><rect x="1871" y="252" width="2" height="1"/><rect x="1871" y="285" width="2" height="1"/><rect x="1871" y="318" width="2" height="1"/><rect x="1871" y="351" width="2" height="1"/><rect x="1871" y="384" width="2" height="1"/><rect x="1871" y="417" width="2" height="1"/><rect x="1871" y="450" width="2" height="1"/><rect x="1871" y="483" width="2" height="1"/><rect x="1871" y="516" width="2" height="1"/><rect x="1871" y="549" width="2" height="1"/><rect x="1871" y="582" width="2" height="1"/>
<rect x="1871" y="589" width="1" height="1"/><rect x="1871" y="655" width="1" height="1"/><rect x="1871" y="769" width="1" height="1"/>
<rect x="3" y="771" width="1" height="3"/><rect x="67" y="771" width="1" height="3"/><rect x="131" y="771" width="1" height="3"/><rect x="195" y="771" width="1" height="3"/><rect x="259" y="771" width="1" height="3"/><rect x="323" y="771" width="1" height="3"/><rect x="387" y="771" width="1" height="3"/><rect x="451" y="771" width="1" height="3"/><rect x="515" y="771" width="1" height="3"/><rect x="579" y="771" width="1" height="3"/><rect x="643" y="771" width="1" height="3"/><rect x="707" y="771" width="1" height="3"/><rect x="771" y="771" width="1" height="3"/><rect x="835" y="771" width="1" height="3"/><rect x="899" y="771" width="1" height="3"/><rect x="963" y="771" width="1" height="3"/><rect x="1027" y="771" width="1" height="3"/><rect x="1091" y="771" width="1" height="3"/><rect x="1155" y="771" width="1" height="3"/><rect x="1219" y="771" width="1" height="3"/><rect x="1283" y="771" width="1" height="3"/><rect x="1347" y="771" width="1" height="3"/><rect x="1411" y="771" width="1" height="3"/>
</g>
<g>
<text x="1876" y="25">1788.40</text>
<text x="1876" y="58">1784.40</text>
<text x="1876" y="91">1780.30</text>
<text x="1876" y="124">1776.30</text>
<text x="1876" y="157">1772.30</text>
<text x="1876" y="190">1768.30</text>
<text x="1876" y="223">1764.30</text>
<text x="1876" y="256">1760.30</text>
<text x="1876" y="289">1756.30</text>
<text x="1876" y="322">1752.30</text>
<text x="1876" y="355">1748.30</text>
<text x="1876" y="388">1744.30</text>
<text x="1876" y="421">1740.30</text>
<text x="1876" y="454">1736.20</text>
<text x="1876" y="487">1732.20</text>
<text x="1876" y="520">1728.20</text>
<text x="1876" y="553">1724.20</text>
<text x="1876" y="586">1720.20</text>
<text x="1874" y="598">7.173</text><text x="1874" y="659">0.00</text><text x="1874" y="767">-12.441</text>
<rect x="1872" y="189" width="41" height="11" fill="#FF0000" shape-rendering="crispEdges"/><text x="1876" y="198" class="w">1767.21</text>
<rect x="1872" y="247" width="41" height="11" fill="#FF0000" shape-rendering="crispEdges"/><text x="1876" y="256" class="w">1760.17</text>
<rect x="1872" y="341" width="41" height="11" fill="#FF0000" shape-rendering="crispEdges"/><text x="1876" y="350" class="w">1748.77</text>
<rect x="1872" y="411" width="41" height="11" fill="#FF0000" shape-rendering="crispEdges"/><text x="1876" y="420" class="w">1740.28</text>
<rect x="1872" y="304" width="41" height="11" fill="#000" shape-rendering="crispEdges"/><text x="1876" y="313" class="w">1753.38</text>
<text x="6.8" y="14" letter-spacing="0.24"><tspan class="l">XAUUSD</tspan>.<tspan class="l">v</tspan>,<tspan class="l">H</tspan>4</text><text x="75.6" y="14">1755.19</text><text x="111.6" y="14">1755.34</text><text x="147.6" y="14">1753.26</text><text x="183.6" y="14">1753.38</text>
<text x="7" y="600.2" letter-spacing="0.14"><tspan class="l">MACD</tspan>(12,26,9)</text><text x="76" y="600.2">0.538</text><text x="102" y="600.2">1.613</text><text x="128" y="600.2">0.000</text><text x="154" y="600.2">-1.397</text>
<text x="2" y="783">17 <tspan class="l">Sep</tspan> 2021</text>
<text x="66" y="783">19 <tspan class="l">Sep</tspan> 23:05</text>
<text x="130" y="783">20 <tspan class="l">Sep</tspan> 12:00</text>
<text x="194" y="783">21 <tspan class="l">Sep</tspan> 04:00</text>
<text x="258" y="783">21 <tspan class="l">Sep</tspan> 20:00</text>
<text x="322" y="783">22 <tspan class="l">Sep</tspan> 12:00</text>
<text x="386" y="783">23 <tspan class="l">Sep</tspan> 04:00</text>
<text x="450" y="783">23 <tspan class="l">Sep</tspan> 20:00</text>
<text x="514" y="783">24 <tspan class="l">Sep</tspan> 12:00</text>
<text x="578" y="783">27 <tspan class="l">Sep</tspan> 00:00</text>
<text x="642" y="783">27 <tspan class="l">Sep</tspan> 16:00</text>
<text x="706" y="783">28 <tspan class="l">Sep</tspan> 08:00</text>
<text x="770" y="783">29 <tspan class="l">Sep</tspan> 00:00</text>
<text x="834" y="783">29 <tspan class="l">Sep</tspan> 16:00</text>
<text x="898" y="783">30 <tspan class="l">Sep</tspan> 08:00</text>
<text x="962" y="783">1 <tspan class="l">Oct</tspan> 00:00</text>
<text x="1026" y="783">1 <tspan class="l">Oct</tspan> 16:00</text>
<text x="1090" y="783">4 <tspan class="l">Oct</tspan> 04:00</text>
<text x="1154" y="783">4 <tspan class="l">Oct</tspan> 20:00</text>
<text x="1218" y="783">5 <tspan class="l">Oct</tspan> 12:00</text>
<text x="1282" y="783">6 <tspan class="l">Oct</tspan> 04:00</text>
<text x="1346" y="783">6 <tspan class="l">Oct</tspan> 20:00</text>
<text x="1410" y="783">7 <tspan class="l">Oct</tspan> 12:00</text>
</g>
</svg>
</body></html>
